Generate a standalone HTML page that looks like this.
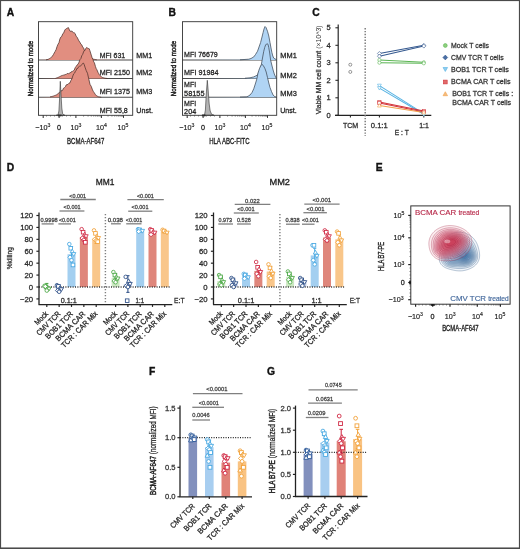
<!DOCTYPE html>
<html><head><meta charset="utf-8"><style>
html,body{margin:0;padding:0;background:#fff;}
svg{display:block;font-family:"Liberation Sans", sans-serif;will-change:transform;}
</style></head><body>
<svg width="520" height="549" viewBox="0 0 520 549">
<rect width="520" height="549" fill="#fff"/>
<text x="6.80" y="16.00" font-size="10.3" fill="#111" stroke="#111" stroke-width="0.35" font-weight="bold">A</text>
<text x="168.60" y="16.00" font-size="10.3" fill="#111" stroke="#111" stroke-width="0.35" font-weight="bold">B</text>
<text x="312.20" y="16.00" font-size="10.3" fill="#111" stroke="#111" stroke-width="0.35" font-weight="bold">C</text>
<text x="6.80" y="170.50" font-size="10.3" fill="#111" stroke="#111" stroke-width="0.35" font-weight="bold">D</text>
<text x="375.80" y="170.50" font-size="10.3" fill="#111" stroke="#111" stroke-width="0.35" font-weight="bold">E</text>
<text x="149.00" y="374.70" font-size="10.3" fill="#111" stroke="#111" stroke-width="0.35" font-weight="bold">F</text>
<text x="267.00" y="374.70" font-size="10.3" fill="#111" stroke="#111" stroke-width="0.35" font-weight="bold">G</text>
<line x1="38.50" y1="60.00" x2="132.70" y2="60.00" stroke="#4a4a4a" stroke-width="1.04"/>
<line x1="38.50" y1="78.50" x2="132.70" y2="78.50" stroke="#4a4a4a" stroke-width="1.04"/>
<line x1="38.50" y1="97.30" x2="132.70" y2="97.30" stroke="#4a4a4a" stroke-width="1.04"/>
<path d="M38.50,60.00 L46.00,59.80 L47.00,59.60 L48.00,59.40 L48.83,58.97 L49.67,58.53 L50.50,58.10 L51.45,57.17 L52.40,56.09 L53.33,54.71 L54.25,52.96 L55.17,51.40 L56.10,49.60 L57.05,46.50 L58.00,44.22 L58.95,42.74 L59.90,39.01 L60.83,37.07 L61.75,36.39 L62.67,34.00 L63.60,33.04 L64.90,29.96 L65.75,28.97 L66.75,28.44 L67.60,27.97 L68.40,27.59 L69.00,29.04 L69.90,30.99 L71.10,31.52 L71.92,30.88 L72.75,32.31 L73.50,32.65 L74.25,32.78 L75.17,33.60 L76.10,36.18 L77.05,37.13 L78.00,39.10 L78.95,40.93 L79.90,42.24 L80.83,44.12 L81.75,44.83 L82.67,47.03 L83.60,48.01 L84.42,50.25 L85.25,51.55 L86.12,52.02 L87.00,53.65 L87.80,55.03 L88.60,56.76 L89.55,57.30 L90.50,58.10 L91.33,58.43 L92.17,58.77 L93.00,59.10 L93.75,59.24 L94.50,59.38 L95.25,59.52 L96.00,59.66 L96.75,59.80 L132.70,60.00 L132.70,60.00 Z" fill="#e18e80" stroke="none" stroke-width="0.7" stroke-linejoin="round"/>
<path d="M46.00,59.80 L47.00,59.60 L48.00,59.40 L48.83,58.97 L49.67,58.53 L50.50,58.10 L51.45,57.17 L52.40,56.09 L53.33,54.71 L54.25,52.96 L55.17,51.40 L56.10,49.60 L57.05,46.50 L58.00,44.22 L58.95,42.74 L59.90,39.01 L60.83,37.07 L61.75,36.39 L62.67,34.00 L63.60,33.04 L64.90,29.96 L65.75,28.97 L66.75,28.44 L67.60,27.97 L68.40,27.59 L69.00,29.04 L69.90,30.99 L71.10,31.52 L71.92,30.88 L72.75,32.31 L73.50,32.65 L74.25,32.78 L75.17,33.60 L76.10,36.18 L77.05,37.13 L78.00,39.10 L78.95,40.93 L79.90,42.24 L80.83,44.12 L81.75,44.83 L82.67,47.03 L83.60,48.01 L84.42,50.25 L85.25,51.55 L86.12,52.02 L87.00,53.65 L87.80,55.03 L88.60,56.76 L89.55,57.30 L90.50,58.10 L91.33,58.43 L92.17,58.77 L93.00,59.10 L93.75,59.24 L94.50,59.38 L95.25,59.52 L96.00,59.66 L96.75,59.80" fill="none" stroke="#4d302b" stroke-width="0.75" stroke-linejoin="round"/>
<path d="M38.50,78.50 L55.50,78.30 L56.33,78.03 L57.17,77.77 L58.00,77.50 L58.75,77.12 L59.50,76.74 L60.25,76.36 L61.00,75.98 L61.75,75.60 L62.56,75.38 L63.38,75.17 L64.19,74.93 L65.00,74.75 L65.71,74.41 L66.42,74.30 L67.12,73.49 L67.83,73.54 L68.54,73.65 L69.25,73.21 L70.17,72.99 L71.08,71.89 L72.00,71.77 L72.75,70.94 L73.50,70.65 L74.25,70.09 L75.12,67.82 L76.00,66.60 L77.00,65.07 L78.00,64.33 L79.00,62.25 L80.00,59.52 L80.88,58.54 L81.75,55.74 L82.62,54.54 L83.50,51.98 L84.20,50.55 L84.90,50.52 L86.00,48.09 L86.70,47.50 L87.40,47.98 L88.50,48.52 L89.20,48.71 L89.90,50.65 L91.25,55.05 L92.12,57.75 L93.00,59.59 L93.70,61.87 L94.40,62.77 L95.50,66.65 L96.20,68.55 L96.90,69.76 L98.00,72.38 L98.70,73.53 L99.40,74.83 L100.20,75.75 L101.00,76.50 L101.75,77.00 L102.50,77.50 L103.33,77.73 L104.17,77.97 L105.00,78.20 L105.83,78.30 L106.67,78.40 L107.50,78.50 L132.70,78.50 L132.70,78.50 Z" fill="#e18e80" stroke="none" stroke-width="0.7" stroke-linejoin="round"/>
<path d="M55.50,78.30 L56.33,78.03 L57.17,77.77 L58.00,77.50 L58.75,77.12 L59.50,76.74 L60.25,76.36 L61.00,75.98 L61.75,75.60 L62.56,75.38 L63.38,75.17 L64.19,74.93 L65.00,74.75 L65.71,74.41 L66.42,74.30 L67.12,73.49 L67.83,73.54 L68.54,73.65 L69.25,73.21 L70.17,72.99 L71.08,71.89 L72.00,71.77 L72.75,70.94 L73.50,70.65 L74.25,70.09 L75.12,67.82 L76.00,66.60 L77.00,65.07 L78.00,64.33 L79.00,62.25 L80.00,59.52 L80.88,58.54 L81.75,55.74 L82.62,54.54 L83.50,51.98 L84.20,50.55 L84.90,50.52 L86.00,48.09 L86.70,47.50 L87.40,47.98 L88.50,48.52 L89.20,48.71 L89.90,50.65 L91.25,55.05 L92.12,57.75 L93.00,59.59 L93.70,61.87 L94.40,62.77 L95.50,66.65 L96.20,68.55 L96.90,69.76 L98.00,72.38 L98.70,73.53 L99.40,74.83 L100.20,75.75 L101.00,76.50 L101.75,77.00 L102.50,77.50 L103.33,77.73 L104.17,77.97 L105.00,78.20 L105.83,78.30 L106.67,78.40 L107.50,78.50" fill="none" stroke="#4d302b" stroke-width="0.75" stroke-linejoin="round"/>
<path d="M38.50,97.30 L50.00,96.90 L50.75,96.73 L51.50,96.55 L52.25,96.38 L53.00,96.20 L53.81,95.90 L54.62,95.60 L55.44,95.30 L56.25,95.00 L57.17,94.33 L58.08,93.65 L59.00,92.91 L59.70,92.12 L60.40,92.12 L61.10,90.72 L61.80,90.60 L62.50,90.47 L63.50,88.18 L64.50,87.59 L65.38,86.74 L66.25,84.87 L67.12,84.61 L68.00,84.33 L69.00,83.17 L70.00,82.86 L70.95,80.40 L71.90,78.98 L72.83,75.95 L73.75,73.76 L74.62,73.05 L75.50,71.14 L76.20,70.31 L76.90,68.56 L77.70,68.52 L78.50,66.86 L79.55,66.22 L80.60,65.88 L81.30,65.41 L82.00,64.37 L82.75,63.34 L83.50,63.13 L84.20,64.54 L85.00,67.15 L86.20,70.50 L87.50,73.27 L88.70,78.62 L90.00,84.36 L91.20,86.29 L92.50,89.86 L93.35,91.49 L94.20,92.67 L95.22,94.30 L96.25,95.60 L97.00,96.00 L97.75,96.40 L98.50,96.80 L99.42,96.97 L100.33,97.13 L101.25,97.30 L132.70,97.30 L132.70,97.30 Z" fill="#e18e80" stroke="none" stroke-width="0.7" stroke-linejoin="round"/>
<path d="M50.00,96.90 L50.75,96.73 L51.50,96.55 L52.25,96.38 L53.00,96.20 L53.81,95.90 L54.62,95.60 L55.44,95.30 L56.25,95.00 L57.17,94.33 L58.08,93.65 L59.00,92.91 L59.70,92.12 L60.40,92.12 L61.10,90.72 L61.80,90.60 L62.50,90.47 L63.50,88.18 L64.50,87.59 L65.38,86.74 L66.25,84.87 L67.12,84.61 L68.00,84.33 L69.00,83.17 L70.00,82.86 L70.95,80.40 L71.90,78.98 L72.83,75.95 L73.75,73.76 L74.62,73.05 L75.50,71.14 L76.20,70.31 L76.90,68.56 L77.70,68.52 L78.50,66.86 L79.55,66.22 L80.60,65.88 L81.30,65.41 L82.00,64.37 L82.75,63.34 L83.50,63.13 L84.20,64.54 L85.00,67.15 L86.20,70.50 L87.50,73.27 L88.70,78.62 L90.00,84.36 L91.20,86.29 L92.50,89.86 L93.35,91.49 L94.20,92.67 L95.22,94.30 L96.25,95.60 L97.00,96.00 L97.75,96.40 L98.50,96.80 L99.42,96.97 L100.33,97.13 L101.25,97.30" fill="none" stroke="#4d302b" stroke-width="0.75" stroke-linejoin="round"/>
<path d="M56.00,115.30 L58.00,115.00 L58.90,111.00 L59.50,100.00 L60.30,81.30 L61.10,96.00 L61.80,108.00 L62.60,113.50 L64.00,115.00 L65.00,115.30 Z" fill="#b5b5b5" stroke="#333" stroke-width="0.6" stroke-linejoin="round"/>
<rect x="57.90" y="114.70" width="3.6" height="1.6" fill="#111"/>
<rect x="38.50" y="21.70" width="94.20" height="93.60" fill="none" stroke="#333" stroke-width="0.9"/>
<line x1="43.20" y1="115.30" x2="43.20" y2="117.90" stroke="#333" stroke-width="1.04"/>
<line x1="59.10" y1="115.30" x2="59.10" y2="117.90" stroke="#333" stroke-width="1.04"/>
<line x1="75.90" y1="115.30" x2="75.90" y2="117.90" stroke="#333" stroke-width="1.04"/>
<line x1="101.40" y1="115.30" x2="101.40" y2="117.90" stroke="#333" stroke-width="1.04"/>
<line x1="123.50" y1="115.30" x2="123.50" y2="117.90" stroke="#333" stroke-width="1.04"/>
<line x1="83.58" y1="115.30" x2="83.58" y2="116.60" stroke="#444" stroke-width="0.65"/>
<line x1="88.07" y1="115.30" x2="88.07" y2="116.60" stroke="#444" stroke-width="0.65"/>
<line x1="91.25" y1="115.30" x2="91.25" y2="116.60" stroke="#444" stroke-width="0.65"/>
<line x1="93.72" y1="115.30" x2="93.72" y2="116.60" stroke="#444" stroke-width="0.65"/>
<line x1="95.74" y1="115.30" x2="95.74" y2="116.60" stroke="#444" stroke-width="0.65"/>
<line x1="97.45" y1="115.30" x2="97.45" y2="116.60" stroke="#444" stroke-width="0.65"/>
<line x1="98.93" y1="115.30" x2="98.93" y2="116.60" stroke="#444" stroke-width="0.65"/>
<line x1="100.23" y1="115.30" x2="100.23" y2="116.60" stroke="#444" stroke-width="0.65"/>
<line x1="108.05" y1="115.30" x2="108.05" y2="116.60" stroke="#444" stroke-width="0.65"/>
<line x1="111.94" y1="115.30" x2="111.94" y2="116.60" stroke="#444" stroke-width="0.65"/>
<line x1="114.71" y1="115.30" x2="114.71" y2="116.60" stroke="#444" stroke-width="0.65"/>
<line x1="116.85" y1="115.30" x2="116.85" y2="116.60" stroke="#444" stroke-width="0.65"/>
<line x1="118.60" y1="115.30" x2="118.60" y2="116.60" stroke="#444" stroke-width="0.65"/>
<line x1="120.08" y1="115.30" x2="120.08" y2="116.60" stroke="#444" stroke-width="0.65"/>
<line x1="121.36" y1="115.30" x2="121.36" y2="116.60" stroke="#444" stroke-width="0.65"/>
<line x1="122.49" y1="115.30" x2="122.49" y2="116.60" stroke="#444" stroke-width="0.65"/>
<line x1="46.50" y1="115.30" x2="46.50" y2="116.50" stroke="#444" stroke-width="0.65"/>
<line x1="50.50" y1="115.30" x2="50.50" y2="116.50" stroke="#444" stroke-width="0.65"/>
<line x1="54.50" y1="115.30" x2="54.50" y2="116.50" stroke="#444" stroke-width="0.65"/>
<line x1="62.50" y1="115.30" x2="62.50" y2="116.50" stroke="#444" stroke-width="0.65"/>
<line x1="66.50" y1="115.30" x2="66.50" y2="116.50" stroke="#444" stroke-width="0.65"/>
<line x1="70.50" y1="115.30" x2="70.50" y2="116.50" stroke="#444" stroke-width="0.65"/>
<text x="35.30" y="129.50" font-size="7.2" fill="#222" stroke="#222" stroke-width="0.16">−10<tspan font-size="5.18" dy="-2.30">3</tspan></text>
<text x="59.10" y="129.50" font-size="7.2" fill="#222" stroke="#222" stroke-width="0.26" text-anchor="middle">0</text>
<text x="70.50" y="129.50" font-size="7.2" fill="#222" stroke="#222" stroke-width="0.16">10<tspan font-size="5.18" dy="-2.30">3</tspan></text>
<text x="96.00" y="129.50" font-size="7.2" fill="#222" stroke="#222" stroke-width="0.16">10<tspan font-size="5.18" dy="-2.30">4</tspan></text>
<text x="117.50" y="129.50" font-size="7.2" fill="#222" stroke="#222" stroke-width="0.16">10<tspan font-size="5.18" dy="-2.30">5</tspan></text>
<text x="67.10" y="144.00" font-size="9.0" fill="#222" stroke="#222" stroke-width="0.35" textLength="37.20" lengthAdjust="spacingAndGlyphs">BCMA-AF647</text>
<text x="32.60" y="68.50" font-size="8.0" fill="#2a2a2a" stroke="#2a2a2a" stroke-width="0.5" text-anchor="middle" textLength="55.40" lengthAdjust="spacingAndGlyphs" transform="rotate(-90 32.60 68.50)">Normalized to mode</text>
<text x="99.70" y="57.80" font-size="7.5" fill="#222" stroke="#222" stroke-width="0.26" textLength="25.40" lengthAdjust="spacingAndGlyphs">MFI 631</text>
<text x="99.80" y="74.60" font-size="7.5" fill="#222" stroke="#222" stroke-width="0.26" textLength="30.20" lengthAdjust="spacingAndGlyphs">MFI 2150</text>
<text x="99.80" y="94.00" font-size="7.5" fill="#222" stroke="#222" stroke-width="0.26" textLength="30.20" lengthAdjust="spacingAndGlyphs">MFI 1375</text>
<text x="99.80" y="112.60" font-size="7.5" fill="#222" stroke="#222" stroke-width="0.26" textLength="28.00" lengthAdjust="spacingAndGlyphs">MFI 55,8</text>
<text x="136.30" y="57.90" font-size="7.5" fill="#222" stroke="#222" stroke-width="0.26" textLength="15.80" lengthAdjust="spacingAndGlyphs">MM1</text>
<text x="136.30" y="74.70" font-size="7.5" fill="#222" stroke="#222" stroke-width="0.26" textLength="16.00" lengthAdjust="spacingAndGlyphs">MM2</text>
<text x="136.30" y="93.90" font-size="7.5" fill="#222" stroke="#222" stroke-width="0.26" textLength="16.00" lengthAdjust="spacingAndGlyphs">MM3</text>
<text x="136.30" y="112.50" font-size="7.5" fill="#222" stroke="#222" stroke-width="0.26" textLength="16.60" lengthAdjust="spacingAndGlyphs">Unst.</text>
<line x1="182.50" y1="60.00" x2="276.70" y2="60.00" stroke="#4a4a4a" stroke-width="1.04"/>
<line x1="182.50" y1="78.50" x2="276.70" y2="78.50" stroke="#4a4a4a" stroke-width="1.04"/>
<line x1="182.50" y1="97.30" x2="276.70" y2="97.30" stroke="#4a4a4a" stroke-width="1.04"/>
<path d="M182.50,60.00 L240.00,59.80 L248.75,59.20 L251.00,58.50 L253.75,56.90 L255.50,54.50 L257.50,51.25 L259.00,47.00 L260.60,42.50 L262.00,37.00 L263.10,32.50 L264.00,29.00 L265.00,26.50 L266.00,27.50 L267.50,31.25 L268.80,36.00 L270.00,42.50 L271.00,48.00 L271.90,52.50 L272.80,56.00 L273.75,58.10 L275.00,59.00 L276.20,59.30 L276.70,60.00 L276.70,60.00 Z" fill="#b0d4f4" stroke="none" stroke-width="0.7" stroke-linejoin="round"/>
<path d="M240.00,59.80 L248.75,59.20 L251.00,58.50 L253.75,56.90 L255.50,54.50 L257.50,51.25 L259.00,47.00 L260.60,42.50 L262.00,37.00 L263.10,32.50 L264.00,29.00 L265.00,26.50 L266.00,27.50 L267.50,31.25 L268.80,36.00 L270.00,42.50 L271.00,48.00 L271.90,52.50 L272.80,56.00 L273.75,58.10 L275.00,59.00 L276.20,59.30" fill="none" stroke="#3d4a58" stroke-width="0.75" stroke-linejoin="round"/>
<path d="M182.50,78.50 L245.00,78.20 L250.00,77.80 L253.75,76.90 L255.50,76.00 L257.50,75.00 L259.40,71.00 L261.25,65.00 L262.50,58.00 L263.75,51.25 L264.70,47.50 L265.60,45.00 L266.50,44.00 L267.50,43.75 L268.20,45.00 L268.75,47.50 L269.70,53.00 L270.60,60.00 L271.80,65.00 L273.10,70.00 L274.30,74.00 L275.60,77.00 L276.20,78.00 L276.70,78.50 L276.70,78.50 Z" fill="#b0d4f4" stroke="none" stroke-width="0.7" stroke-linejoin="round"/>
<path d="M245.00,78.20 L250.00,77.80 L253.75,76.90 L255.50,76.00 L257.50,75.00 L259.40,71.00 L261.25,65.00 L262.50,58.00 L263.75,51.25 L264.70,47.50 L265.60,45.00 L266.50,44.00 L267.50,43.75 L268.20,45.00 L268.75,47.50 L269.70,53.00 L270.60,60.00 L271.80,65.00 L273.10,70.00 L274.30,74.00 L275.60,77.00 L276.20,78.00" fill="none" stroke="#3d4a58" stroke-width="0.75" stroke-linejoin="round"/>
<path d="M182.50,97.30 L240.00,97.10 L246.25,96.90 L248.00,96.30 L250.00,95.00 L252.00,92.50 L253.75,88.75 L255.30,84.00 L256.90,78.75 L258.00,73.00 L259.40,68.75 L260.60,66.00 L261.90,64.40 L263.30,65.50 L265.00,68.75 L266.20,72.00 L267.50,77.50 L268.80,83.00 L270.00,87.50 L271.50,91.50 L273.10,95.00 L274.30,96.30 L275.60,96.90 L276.20,97.20 L276.70,97.30 L276.70,97.30 Z" fill="#b0d4f4" stroke="none" stroke-width="0.7" stroke-linejoin="round"/>
<path d="M240.00,97.10 L246.25,96.90 L248.00,96.30 L250.00,95.00 L252.00,92.50 L253.75,88.75 L255.30,84.00 L256.90,78.75 L258.00,73.00 L259.40,68.75 L260.60,66.00 L261.90,64.40 L263.30,65.50 L265.00,68.75 L266.20,72.00 L267.50,77.50 L268.80,83.00 L270.00,87.50 L271.50,91.50 L273.10,95.00 L274.30,96.30 L275.60,96.90 L276.20,97.20" fill="none" stroke="#3d4a58" stroke-width="0.75" stroke-linejoin="round"/>
<path d="M202.00,115.30 L204.50,115.00 L205.40,110.00 L206.20,95.00 L207.30,80.30 L208.30,92.00 L209.20,104.00 L210.20,111.00 L211.70,114.40 L214.00,115.20 Z" fill="#b5b5b5" stroke="#333" stroke-width="0.6" stroke-linejoin="round"/>
<rect x="201.90" y="114.70" width="3.6" height="1.6" fill="#111"/>
<rect x="182.50" y="21.70" width="94.20" height="93.60" fill="none" stroke="#333" stroke-width="0.9"/>
<line x1="187.20" y1="115.30" x2="187.20" y2="117.90" stroke="#333" stroke-width="1.04"/>
<line x1="203.10" y1="115.30" x2="203.10" y2="117.90" stroke="#333" stroke-width="1.04"/>
<line x1="219.90" y1="115.30" x2="219.90" y2="117.90" stroke="#333" stroke-width="1.04"/>
<line x1="245.40" y1="115.30" x2="245.40" y2="117.90" stroke="#333" stroke-width="1.04"/>
<line x1="267.50" y1="115.30" x2="267.50" y2="117.90" stroke="#333" stroke-width="1.04"/>
<line x1="227.58" y1="115.30" x2="227.58" y2="116.60" stroke="#444" stroke-width="0.65"/>
<line x1="232.07" y1="115.30" x2="232.07" y2="116.60" stroke="#444" stroke-width="0.65"/>
<line x1="235.25" y1="115.30" x2="235.25" y2="116.60" stroke="#444" stroke-width="0.65"/>
<line x1="237.72" y1="115.30" x2="237.72" y2="116.60" stroke="#444" stroke-width="0.65"/>
<line x1="239.74" y1="115.30" x2="239.74" y2="116.60" stroke="#444" stroke-width="0.65"/>
<line x1="241.45" y1="115.30" x2="241.45" y2="116.60" stroke="#444" stroke-width="0.65"/>
<line x1="242.93" y1="115.30" x2="242.93" y2="116.60" stroke="#444" stroke-width="0.65"/>
<line x1="244.23" y1="115.30" x2="244.23" y2="116.60" stroke="#444" stroke-width="0.65"/>
<line x1="252.05" y1="115.30" x2="252.05" y2="116.60" stroke="#444" stroke-width="0.65"/>
<line x1="255.94" y1="115.30" x2="255.94" y2="116.60" stroke="#444" stroke-width="0.65"/>
<line x1="258.71" y1="115.30" x2="258.71" y2="116.60" stroke="#444" stroke-width="0.65"/>
<line x1="260.85" y1="115.30" x2="260.85" y2="116.60" stroke="#444" stroke-width="0.65"/>
<line x1="262.60" y1="115.30" x2="262.60" y2="116.60" stroke="#444" stroke-width="0.65"/>
<line x1="264.08" y1="115.30" x2="264.08" y2="116.60" stroke="#444" stroke-width="0.65"/>
<line x1="265.36" y1="115.30" x2="265.36" y2="116.60" stroke="#444" stroke-width="0.65"/>
<line x1="266.49" y1="115.30" x2="266.49" y2="116.60" stroke="#444" stroke-width="0.65"/>
<line x1="190.50" y1="115.30" x2="190.50" y2="116.50" stroke="#444" stroke-width="0.65"/>
<line x1="194.50" y1="115.30" x2="194.50" y2="116.50" stroke="#444" stroke-width="0.65"/>
<line x1="198.50" y1="115.30" x2="198.50" y2="116.50" stroke="#444" stroke-width="0.65"/>
<line x1="206.50" y1="115.30" x2="206.50" y2="116.50" stroke="#444" stroke-width="0.65"/>
<line x1="210.50" y1="115.30" x2="210.50" y2="116.50" stroke="#444" stroke-width="0.65"/>
<line x1="214.50" y1="115.30" x2="214.50" y2="116.50" stroke="#444" stroke-width="0.65"/>
<text x="179.30" y="129.50" font-size="7.2" fill="#222" stroke="#222" stroke-width="0.16">−10<tspan font-size="5.18" dy="-2.30">3</tspan></text>
<text x="203.10" y="129.50" font-size="7.2" fill="#222" stroke="#222" stroke-width="0.26" text-anchor="middle">0</text>
<text x="214.50" y="129.50" font-size="7.2" fill="#222" stroke="#222" stroke-width="0.16">10<tspan font-size="5.18" dy="-2.30">3</tspan></text>
<text x="240.00" y="129.50" font-size="7.2" fill="#222" stroke="#222" stroke-width="0.16">10<tspan font-size="5.18" dy="-2.30">4</tspan></text>
<text x="261.50" y="129.50" font-size="7.2" fill="#222" stroke="#222" stroke-width="0.16">10<tspan font-size="5.18" dy="-2.30">5</tspan></text>
<text x="209.20" y="144.00" font-size="9.0" fill="#222" stroke="#222" stroke-width="0.35" textLength="40.40" lengthAdjust="spacingAndGlyphs">HLA ABC-FITC</text>
<text x="176.10" y="68.50" font-size="8.0" fill="#2a2a2a" stroke="#2a2a2a" stroke-width="0.5" text-anchor="middle" textLength="55.40" lengthAdjust="spacingAndGlyphs" transform="rotate(-90 176.10 68.50)">Normalized to mode</text>
<text x="184.10" y="56.90" font-size="7.5" fill="#222" stroke="#222" stroke-width="0.26" textLength="33.70" lengthAdjust="spacingAndGlyphs">MFI 76679</text>
<text x="184.10" y="74.70" font-size="7.5" fill="#222" stroke="#222" stroke-width="0.26" textLength="34.30" lengthAdjust="spacingAndGlyphs">MFI 91984</text>
<text x="184.10" y="86.70" font-size="7.5" fill="#222" stroke="#222" stroke-width="0.26" textLength="12.10" lengthAdjust="spacingAndGlyphs">MFI</text>
<text x="184.10" y="96.00" font-size="7.5" fill="#222" stroke="#222" stroke-width="0.26" textLength="20.40" lengthAdjust="spacingAndGlyphs">58155</text>
<text x="184.10" y="105.60" font-size="7.5" fill="#222" stroke="#222" stroke-width="0.26" textLength="12.10" lengthAdjust="spacingAndGlyphs">MFI</text>
<text x="184.10" y="114.40" font-size="7.5" fill="#222" stroke="#222" stroke-width="0.26" textLength="12.10" lengthAdjust="spacingAndGlyphs">204</text>
<text x="280.30" y="58.30" font-size="7.5" fill="#222" stroke="#222" stroke-width="0.26" textLength="16.50" lengthAdjust="spacingAndGlyphs">MM1</text>
<text x="280.30" y="77.70" font-size="7.5" fill="#222" stroke="#222" stroke-width="0.26" textLength="16.50" lengthAdjust="spacingAndGlyphs">MM2</text>
<text x="280.30" y="95.70" font-size="7.5" fill="#222" stroke="#222" stroke-width="0.26" textLength="16.50" lengthAdjust="spacingAndGlyphs">MM3</text>
<text x="280.30" y="113.10" font-size="7.5" fill="#222" stroke="#222" stroke-width="0.26" textLength="16.40" lengthAdjust="spacingAndGlyphs">Unst.</text>
<line x1="338.20" y1="24.40" x2="338.20" y2="115.30" stroke="#222" stroke-width="1.17"/>
<line x1="335.00" y1="115.30" x2="431.30" y2="115.30" stroke="#222" stroke-width="1.17"/>
<line x1="335.40" y1="115.30" x2="338.20" y2="115.30" stroke="#222" stroke-width="1.04"/>
<text x="330.60" y="117.90" font-size="7.5" fill="#2a2a2a" stroke="#2a2a2a" stroke-width="0.26" text-anchor="end">0</text>
<line x1="335.40" y1="97.80" x2="338.20" y2="97.80" stroke="#222" stroke-width="1.04"/>
<text x="330.60" y="100.40" font-size="7.5" fill="#2a2a2a" stroke="#2a2a2a" stroke-width="0.26" text-anchor="end">1</text>
<line x1="335.40" y1="80.30" x2="338.20" y2="80.30" stroke="#222" stroke-width="1.04"/>
<text x="330.60" y="82.90" font-size="7.5" fill="#2a2a2a" stroke="#2a2a2a" stroke-width="0.26" text-anchor="end">2</text>
<line x1="335.40" y1="62.80" x2="338.20" y2="62.80" stroke="#222" stroke-width="1.04"/>
<text x="330.60" y="65.40" font-size="7.5" fill="#2a2a2a" stroke="#2a2a2a" stroke-width="0.26" text-anchor="end">3</text>
<line x1="335.40" y1="45.30" x2="338.20" y2="45.30" stroke="#222" stroke-width="1.04"/>
<text x="330.60" y="47.90" font-size="7.5" fill="#2a2a2a" stroke="#2a2a2a" stroke-width="0.26" text-anchor="end">4</text>
<line x1="335.40" y1="27.80" x2="338.20" y2="27.80" stroke="#222" stroke-width="1.04"/>
<text x="330.60" y="30.40" font-size="7.5" fill="#2a2a2a" stroke="#2a2a2a" stroke-width="0.26" text-anchor="end">5</text>
<line x1="350.40" y1="115.30" x2="350.40" y2="117.60" stroke="#222" stroke-width="1.04"/>
<line x1="379.40" y1="115.30" x2="379.40" y2="117.60" stroke="#222" stroke-width="1.04"/>
<line x1="423.80" y1="115.30" x2="423.80" y2="117.60" stroke="#222" stroke-width="1.04"/>
<text x="350.60" y="128.00" font-size="7.6" fill="#2a2a2a" stroke="#2a2a2a" stroke-width="0.26" text-anchor="middle" textLength="15.40" lengthAdjust="spacingAndGlyphs">TCM</text>
<text x="379.25" y="128.00" font-size="7.6" fill="#2a2a2a" stroke="#2a2a2a" stroke-width="0.26" text-anchor="middle" textLength="16.90" lengthAdjust="spacingAndGlyphs">0.1:1</text>
<text x="424.00" y="128.00" font-size="7.6" fill="#2a2a2a" stroke="#2a2a2a" stroke-width="0.26" text-anchor="middle" textLength="9.60" lengthAdjust="spacingAndGlyphs">1:1</text>
<text x="401.80" y="135.00" font-size="7.6" fill="#2a2a2a" stroke="#2a2a2a" stroke-width="0.26" text-anchor="middle" textLength="14.00" lengthAdjust="spacingAndGlyphs">E : T</text>
<line x1="365.20" y1="28.00" x2="365.20" y2="136.00" stroke="#777" stroke-width="1.43" stroke-dasharray="1.4 1.5"/>
<text x="321.0" y="69.8" font-size="8.0" fill="#333" text-anchor="middle" textLength="88.7" lengthAdjust="spacingAndGlyphs" transform="rotate(-90 321.0 69.8)"><tspan stroke="#333" stroke-width="0.3">Viable MM cell count</tspan> (×10^3)</text>
<circle cx="350.30" cy="64.70" r="1.50" fill="#fff" stroke="#555" stroke-width="0.6"/>
<circle cx="350.30" cy="71.90" r="1.50" fill="#fff" stroke="#555" stroke-width="0.6"/>
<line x1="379.40" y1="60.00" x2="423.80" y2="62.30" stroke="#5bb553" stroke-width="1.04"/>
<line x1="379.40" y1="62.70" x2="423.80" y2="63.30" stroke="#5bb553" stroke-width="1.04"/>
<line x1="379.40" y1="53.50" x2="423.80" y2="45.30" stroke="#35598f" stroke-width="1.04"/>
<line x1="379.40" y1="56.20" x2="423.80" y2="46.10" stroke="#35598f" stroke-width="1.04"/>
<line x1="379.40" y1="85.60" x2="423.80" y2="113.60" stroke="#55b2e3" stroke-width="1.04"/>
<line x1="379.40" y1="88.10" x2="423.80" y2="114.30" stroke="#55b2e3" stroke-width="1.04"/>
<line x1="379.40" y1="101.90" x2="423.80" y2="111.00" stroke="#d3343a" stroke-width="1.04"/>
<line x1="379.40" y1="103.10" x2="423.80" y2="112.00" stroke="#d3343a" stroke-width="1.04"/>
<line x1="379.40" y1="105.60" x2="423.80" y2="112.50" stroke="#f2a14c" stroke-width="1.04"/>
<circle cx="379.40" cy="60.00" r="1.60" fill="#fff" stroke="#5bb553" stroke-width="0.6"/>
<circle cx="423.80" cy="62.30" r="1.60" fill="#fff" stroke="#5bb553" stroke-width="0.6"/>
<circle cx="379.40" cy="62.70" r="1.60" fill="#fff" stroke="#5bb553" stroke-width="0.6"/>
<circle cx="423.80" cy="63.30" r="1.60" fill="#fff" stroke="#5bb553" stroke-width="0.6"/>
<path d="M379.40,51.50 L381.40,53.50 L379.40,55.50 L377.40,53.50 Z" fill="#fff" stroke="#35598f" stroke-width="0.6" stroke-linejoin="round"/>
<path d="M423.80,43.30 L425.80,45.30 L423.80,47.30 L421.80,45.30 Z" fill="#fff" stroke="#35598f" stroke-width="0.6" stroke-linejoin="round"/>
<path d="M379.40,54.20 L381.40,56.20 L379.40,58.20 L377.40,56.20 Z" fill="#fff" stroke="#35598f" stroke-width="0.6" stroke-linejoin="round"/>
<path d="M423.80,44.10 L425.80,46.10 L423.80,48.10 L421.80,46.10 Z" fill="#fff" stroke="#35598f" stroke-width="0.6" stroke-linejoin="round"/>
<path d="M377.48,84.16 L381.32,84.16 L379.40,87.52 Z" fill="#fff" stroke="#55b2e3" stroke-width="0.6" stroke-linejoin="round"/>
<path d="M421.88,112.16 L425.72,112.16 L423.80,115.52 Z" fill="#fff" stroke="#55b2e3" stroke-width="0.6" stroke-linejoin="round"/>
<path d="M377.48,86.66 L381.32,86.66 L379.40,90.02 Z" fill="#fff" stroke="#55b2e3" stroke-width="0.6" stroke-linejoin="round"/>
<path d="M421.88,112.86 L425.72,112.86 L423.80,116.22 Z" fill="#fff" stroke="#55b2e3" stroke-width="0.6" stroke-linejoin="round"/>
<rect x="377.80" y="100.30" width="3.20" height="3.20" fill="#fff" stroke="#d3343a" stroke-width="0.6"/>
<rect x="422.20" y="109.40" width="3.20" height="3.20" fill="#fff" stroke="#d3343a" stroke-width="0.6"/>
<rect x="377.80" y="101.50" width="3.20" height="3.20" fill="#fff" stroke="#d3343a" stroke-width="0.6"/>
<rect x="422.20" y="110.40" width="3.20" height="3.20" fill="#fff" stroke="#d3343a" stroke-width="0.6"/>
<path d="M377.48,107.04 L381.32,107.04 L379.40,103.68 Z" fill="#fff" stroke="#f2a14c" stroke-width="0.6" stroke-linejoin="round"/>
<path d="M421.88,113.94 L425.72,113.94 L423.80,110.58 Z" fill="#fff" stroke="#f2a14c" stroke-width="0.6" stroke-linejoin="round"/>
<circle cx="445.30" cy="45.50" r="1.90" fill="#8fd07f" stroke="#5bb553" stroke-width="0.6"/>
<text x="451.00" y="47.90" font-size="7.0" fill="#333" stroke="#333" stroke-width="0.26" textLength="38.00" lengthAdjust="spacingAndGlyphs">Mock T cells</text>
<path d="M445.30,55.12 L447.68,57.50 L445.30,59.88 L442.93,57.50 Z" fill="#4a6fa5" stroke="#35598f" stroke-width="0.6" stroke-linejoin="round"/>
<text x="451.00" y="59.90" font-size="7.0" fill="#333" stroke="#333" stroke-width="0.26" textLength="52.60" lengthAdjust="spacingAndGlyphs">CMV TCR T cells</text>
<path d="M443.02,67.49 L447.58,67.49 L445.30,71.48 Z" fill="#8fcdf0" stroke="#55b2e3" stroke-width="0.6" stroke-linejoin="round"/>
<text x="451.00" y="71.60" font-size="7.0" fill="#333" stroke="#333" stroke-width="0.26" textLength="57.90" lengthAdjust="spacingAndGlyphs">BOB1 TCR T cells</text>
<rect x="443.40" y="80.10" width="3.80" height="3.80" fill="#e06b6b" stroke="#d3343a" stroke-width="0.6"/>
<text x="451.00" y="84.40" font-size="7.0" fill="#333" stroke="#333" stroke-width="0.26" textLength="59.50" lengthAdjust="spacingAndGlyphs">BCMA CAR T cells</text>
<path d="M443.02,95.71 L447.58,95.71 L445.30,91.72 Z" fill="#f5bd7e" stroke="#f2a14c" stroke-width="0.6" stroke-linejoin="round"/>
<text x="452.20" y="96.40" font-size="7.0" fill="#333" stroke="#333" stroke-width="0.26" textLength="60.90" lengthAdjust="spacingAndGlyphs">BOB1 TCR T cells :</text>
<text x="452.20" y="105.10" font-size="7.0" fill="#333" stroke="#333" stroke-width="0.26" textLength="58.80" lengthAdjust="spacingAndGlyphs">BCMA CAR T cells</text>
<rect x="42.80" y="287.00" width="8.00" height="0.00" fill="#cce8c2"/>
<rect x="55.15" y="287.00" width="8.00" height="1.19" fill="#c2cde5"/>
<rect x="67.50" y="254.23" width="8.00" height="32.77" fill="#a3cff0"/>
<rect x="79.85" y="236.95" width="8.00" height="50.05" fill="#df867b"/>
<rect x="92.20" y="238.74" width="8.00" height="48.26" fill="#f9c68a"/>
<rect x="111.60" y="278.06" width="8.00" height="8.94" fill="#cce8c2"/>
<rect x="123.90" y="284.02" width="8.00" height="2.98" fill="#c2cde5"/>
<rect x="136.20" y="230.40" width="8.00" height="56.60" fill="#a3cff0"/>
<rect x="148.50" y="231.59" width="8.00" height="55.41" fill="#df867b"/>
<rect x="160.80" y="231.59" width="8.00" height="55.41" fill="#f9c68a"/>
<line x1="39.00" y1="287.00" x2="170.50" y2="287.00" stroke="#333" stroke-width="1.30" stroke-dasharray="1.0 1.4"/>
<line x1="46.80" y1="283.43" x2="46.80" y2="290.57" stroke="#4aa845" stroke-width="1.04"/>
<line x1="45.20" y1="283.43" x2="48.40" y2="283.43" stroke="#4aa845" stroke-width="1.04"/>
<line x1="45.20" y1="290.57" x2="48.40" y2="290.57" stroke="#4aa845" stroke-width="1.04"/>
<circle cx="44.60" cy="285.81" r="1.80" fill="#fff" stroke="#4aa845" stroke-width="0.85"/>
<rect x="44.27" y="285.20" width="3.60" height="3.60" fill="#fff" stroke="#4aa845" stroke-width="0.85"/>
<path d="M45.37,289.22 L49.69,289.22 L47.53,285.44 Z" fill="#fff" stroke="#4aa845" stroke-width="0.85" stroke-linejoin="round"/>
<path d="M46.84,287.17 L51.16,287.17 L49.00,290.95 Z" fill="#fff" stroke="#4aa845" stroke-width="0.85" stroke-linejoin="round"/>
<path d="M45.33,284.15 L47.58,286.40 L45.33,288.65 L43.08,286.40 Z" fill="#fff" stroke="#4aa845" stroke-width="0.85" stroke-linejoin="round"/>
<circle cx="46.80" cy="290.57" r="1.80" fill="#fff" stroke="#4aa845" stroke-width="0.85"/>
<line x1="59.15" y1="285.21" x2="59.15" y2="291.17" stroke="#2b4d85" stroke-width="1.04"/>
<line x1="57.55" y1="285.21" x2="60.75" y2="285.21" stroke="#2b4d85" stroke-width="1.04"/>
<line x1="57.55" y1="291.17" x2="60.75" y2="291.17" stroke="#2b4d85" stroke-width="1.04"/>
<circle cx="56.95" cy="285.21" r="1.80" fill="#fff" stroke="#2b4d85" stroke-width="0.85"/>
<rect x="56.62" y="284.60" width="3.60" height="3.60" fill="#fff" stroke="#2b4d85" stroke-width="0.85"/>
<path d="M57.72,289.81 L62.04,289.81 L59.88,286.03 Z" fill="#fff" stroke="#2b4d85" stroke-width="0.85" stroke-linejoin="round"/>
<path d="M59.19,287.76 L63.51,287.76 L61.35,291.54 Z" fill="#fff" stroke="#2b4d85" stroke-width="0.85" stroke-linejoin="round"/>
<path d="M57.68,288.32 L59.93,290.57 L57.68,292.82 L55.43,290.57 Z" fill="#fff" stroke="#2b4d85" stroke-width="0.85" stroke-linejoin="round"/>
<circle cx="59.15" cy="291.77" r="1.80" fill="#fff" stroke="#2b4d85" stroke-width="0.85"/>
<line x1="71.50" y1="246.49" x2="71.50" y2="261.98" stroke="#4aa9e2" stroke-width="1.04"/>
<line x1="69.90" y1="246.49" x2="73.10" y2="246.49" stroke="#4aa9e2" stroke-width="1.04"/>
<line x1="69.90" y1="261.98" x2="73.10" y2="261.98" stroke="#4aa9e2" stroke-width="1.04"/>
<circle cx="69.30" cy="244.10" r="1.80" fill="#fff" stroke="#4aa9e2" stroke-width="0.85"/>
<rect x="68.97" y="246.47" width="3.60" height="3.60" fill="#fff" stroke="#4aa9e2" stroke-width="0.85"/>
<path d="M70.07,252.87 L74.39,252.87 L72.23,249.09 Z" fill="#fff" stroke="#4aa9e2" stroke-width="0.85" stroke-linejoin="round"/>
<path d="M71.54,252.61 L75.86,252.61 L73.70,256.39 Z" fill="#fff" stroke="#4aa9e2" stroke-width="0.85" stroke-linejoin="round"/>
<path d="M70.03,254.96 L72.28,257.21 L70.03,259.46 L67.78,257.21 Z" fill="#fff" stroke="#4aa9e2" stroke-width="0.85" stroke-linejoin="round"/>
<circle cx="71.50" cy="260.19" r="1.80" fill="#fff" stroke="#4aa9e2" stroke-width="0.85"/>
<rect x="71.17" y="263.16" width="3.60" height="3.60" fill="#fff" stroke="#4aa9e2" stroke-width="0.85"/>
<line x1="83.85" y1="232.78" x2="83.85" y2="241.12" stroke="#d02843" stroke-width="1.04"/>
<line x1="82.25" y1="232.78" x2="85.45" y2="232.78" stroke="#d02843" stroke-width="1.04"/>
<line x1="82.25" y1="241.12" x2="85.45" y2="241.12" stroke="#d02843" stroke-width="1.04"/>
<circle cx="81.65" cy="229.21" r="1.80" fill="#fff" stroke="#d02843" stroke-width="0.85"/>
<rect x="81.32" y="230.39" width="3.60" height="3.60" fill="#fff" stroke="#d02843" stroke-width="0.85"/>
<path d="M82.42,236.19 L86.74,236.19 L84.58,232.41 Z" fill="#fff" stroke="#d02843" stroke-width="0.85" stroke-linejoin="round"/>
<path d="M83.89,234.74 L88.21,234.74 L86.05,238.52 Z" fill="#fff" stroke="#d02843" stroke-width="0.85" stroke-linejoin="round"/>
<path d="M82.38,235.89 L84.63,238.14 L82.38,240.39 L80.13,238.14 Z" fill="#fff" stroke="#d02843" stroke-width="0.85" stroke-linejoin="round"/>
<circle cx="83.85" cy="239.93" r="1.80" fill="#fff" stroke="#d02843" stroke-width="0.85"/>
<rect x="83.52" y="240.51" width="3.60" height="3.60" fill="#fff" stroke="#d02843" stroke-width="0.85"/>
<line x1="96.20" y1="233.97" x2="96.20" y2="243.51" stroke="#f2a23a" stroke-width="1.04"/>
<line x1="94.60" y1="233.97" x2="97.80" y2="233.97" stroke="#f2a23a" stroke-width="1.04"/>
<line x1="94.60" y1="243.51" x2="97.80" y2="243.51" stroke="#f2a23a" stroke-width="1.04"/>
<circle cx="94.00" cy="230.40" r="1.80" fill="#fff" stroke="#f2a23a" stroke-width="0.85"/>
<rect x="93.67" y="231.58" width="3.60" height="3.60" fill="#fff" stroke="#f2a23a" stroke-width="0.85"/>
<path d="M94.77,237.98 L99.09,237.98 L96.93,234.20 Z" fill="#fff" stroke="#f2a23a" stroke-width="0.85" stroke-linejoin="round"/>
<path d="M96.24,236.52 L100.56,236.52 L98.40,240.30 Z" fill="#fff" stroke="#f2a23a" stroke-width="0.85" stroke-linejoin="round"/>
<path d="M94.73,237.09 L96.98,239.34 L94.73,241.59 L92.48,239.34 Z" fill="#fff" stroke="#f2a23a" stroke-width="0.85" stroke-linejoin="round"/>
<circle cx="96.20" cy="240.53" r="1.80" fill="#fff" stroke="#f2a23a" stroke-width="0.85"/>
<rect x="95.87" y="239.92" width="3.60" height="3.60" fill="#fff" stroke="#f2a23a" stroke-width="0.85"/>
<line x1="115.60" y1="273.89" x2="115.60" y2="282.23" stroke="#4aa845" stroke-width="1.04"/>
<line x1="114.00" y1="273.89" x2="117.20" y2="273.89" stroke="#4aa845" stroke-width="1.04"/>
<line x1="114.00" y1="282.23" x2="117.20" y2="282.23" stroke="#4aa845" stroke-width="1.04"/>
<circle cx="113.40" cy="272.11" r="1.80" fill="#fff" stroke="#4aa845" stroke-width="0.85"/>
<rect x="113.07" y="273.28" width="3.60" height="3.60" fill="#fff" stroke="#4aa845" stroke-width="0.85"/>
<path d="M114.17,278.49 L118.49,278.49 L116.33,274.71 Z" fill="#fff" stroke="#4aa845" stroke-width="0.85" stroke-linejoin="round"/>
<path d="M115.64,277.04 L119.96,277.04 L117.80,280.82 Z" fill="#fff" stroke="#4aa845" stroke-width="0.85" stroke-linejoin="round"/>
<path d="M114.13,278.79 L116.38,281.04 L114.13,283.29 L111.88,281.04 Z" fill="#fff" stroke="#4aa845" stroke-width="0.85" stroke-linejoin="round"/>
<circle cx="115.60" cy="282.23" r="1.80" fill="#fff" stroke="#4aa845" stroke-width="0.85"/>
<line x1="127.90" y1="275.68" x2="127.90" y2="292.36" stroke="#2b4d85" stroke-width="1.04"/>
<line x1="126.30" y1="275.68" x2="129.50" y2="275.68" stroke="#2b4d85" stroke-width="1.04"/>
<line x1="126.30" y1="292.36" x2="129.50" y2="292.36" stroke="#2b4d85" stroke-width="1.04"/>
<circle cx="125.70" cy="276.87" r="1.80" fill="#fff" stroke="#2b4d85" stroke-width="0.85"/>
<rect x="125.37" y="298.90" width="3.60" height="3.60" fill="#fff" stroke="#2b4d85" stroke-width="0.85"/>
<path d="M126.47,282.66 L130.79,282.66 L128.63,278.88 Z" fill="#fff" stroke="#2b4d85" stroke-width="0.85" stroke-linejoin="round"/>
<path d="M127.94,282.40 L132.26,282.40 L130.10,286.18 Z" fill="#fff" stroke="#2b4d85" stroke-width="0.85" stroke-linejoin="round"/>
<path d="M126.43,283.56 L128.68,285.81 L126.43,288.06 L124.18,285.81 Z" fill="#fff" stroke="#2b4d85" stroke-width="0.85" stroke-linejoin="round"/>
<circle cx="127.90" cy="287.00" r="1.80" fill="#fff" stroke="#2b4d85" stroke-width="0.85"/>
<line x1="140.20" y1="229.21" x2="140.20" y2="231.59" stroke="#4aa9e2" stroke-width="1.04"/>
<line x1="138.60" y1="229.21" x2="141.80" y2="229.21" stroke="#4aa9e2" stroke-width="1.04"/>
<line x1="138.60" y1="231.59" x2="141.80" y2="231.59" stroke="#4aa9e2" stroke-width="1.04"/>
<circle cx="138.00" cy="229.21" r="1.80" fill="#fff" stroke="#4aa9e2" stroke-width="0.85"/>
<rect x="137.67" y="228.00" width="3.60" height="3.60" fill="#fff" stroke="#4aa9e2" stroke-width="0.85"/>
<path d="M138.77,232.02 L143.09,232.02 L140.93,228.24 Z" fill="#fff" stroke="#4aa9e2" stroke-width="0.85" stroke-linejoin="round"/>
<path d="M140.24,229.37 L144.56,229.37 L142.40,233.15 Z" fill="#fff" stroke="#4aa9e2" stroke-width="0.85" stroke-linejoin="round"/>
<path d="M138.73,229.34 L140.98,231.59 L138.73,233.84 L136.48,231.59 Z" fill="#fff" stroke="#4aa9e2" stroke-width="0.85" stroke-linejoin="round"/>
<line x1="152.50" y1="229.80" x2="152.50" y2="233.38" stroke="#d02843" stroke-width="1.04"/>
<line x1="150.90" y1="229.80" x2="154.10" y2="229.80" stroke="#d02843" stroke-width="1.04"/>
<line x1="150.90" y1="233.38" x2="154.10" y2="233.38" stroke="#d02843" stroke-width="1.04"/>
<circle cx="150.30" cy="229.21" r="1.80" fill="#fff" stroke="#d02843" stroke-width="0.85"/>
<rect x="149.97" y="228.60" width="3.60" height="3.60" fill="#fff" stroke="#d02843" stroke-width="0.85"/>
<path d="M151.07,233.21 L155.39,233.21 L153.23,229.43 Z" fill="#fff" stroke="#d02843" stroke-width="0.85" stroke-linejoin="round"/>
<path d="M152.54,231.16 L156.86,231.16 L154.70,234.94 Z" fill="#fff" stroke="#d02843" stroke-width="0.85" stroke-linejoin="round"/>
<path d="M151.03,232.32 L153.28,234.57 L151.03,236.82 L148.78,234.57 Z" fill="#fff" stroke="#d02843" stroke-width="0.85" stroke-linejoin="round"/>
<line x1="164.80" y1="230.40" x2="164.80" y2="232.78" stroke="#f2a23a" stroke-width="1.04"/>
<line x1="163.20" y1="230.40" x2="166.40" y2="230.40" stroke="#f2a23a" stroke-width="1.04"/>
<line x1="163.20" y1="232.78" x2="166.40" y2="232.78" stroke="#f2a23a" stroke-width="1.04"/>
<circle cx="162.60" cy="229.80" r="1.80" fill="#fff" stroke="#f2a23a" stroke-width="0.85"/>
<rect x="162.27" y="229.19" width="3.60" height="3.60" fill="#fff" stroke="#f2a23a" stroke-width="0.85"/>
<path d="M163.37,233.21 L167.69,233.21 L165.53,229.43 Z" fill="#fff" stroke="#f2a23a" stroke-width="0.85" stroke-linejoin="round"/>
<path d="M164.84,231.16 L169.16,231.16 L167.00,234.94 Z" fill="#fff" stroke="#f2a23a" stroke-width="0.85" stroke-linejoin="round"/>
<line x1="105.40" y1="214.00" x2="105.40" y2="304.50" stroke="#808080" stroke-width="1.43" stroke-dasharray="1.3 1.7"/>
<line x1="39.00" y1="212.50" x2="39.00" y2="304.60" stroke="#222" stroke-width="1.30"/>
<line x1="38.50" y1="304.60" x2="172.30" y2="304.60" stroke="#222" stroke-width="1.30"/>
<line x1="36.40" y1="215.50" x2="39.00" y2="215.50" stroke="#222" stroke-width="1.17"/>
<text x="33.10" y="218.20" font-size="7.75" fill="#2a2a2a" stroke="#2a2a2a" stroke-width="0.26" text-anchor="end">120</text>
<line x1="36.40" y1="227.42" x2="39.00" y2="227.42" stroke="#222" stroke-width="1.17"/>
<text x="33.10" y="230.12" font-size="7.75" fill="#2a2a2a" stroke="#2a2a2a" stroke-width="0.26" text-anchor="end">100</text>
<line x1="36.40" y1="239.34" x2="39.00" y2="239.34" stroke="#222" stroke-width="1.17"/>
<text x="33.10" y="242.04" font-size="7.75" fill="#2a2a2a" stroke="#2a2a2a" stroke-width="0.26" text-anchor="end">80</text>
<line x1="36.40" y1="251.25" x2="39.00" y2="251.25" stroke="#222" stroke-width="1.17"/>
<text x="33.10" y="253.95" font-size="7.75" fill="#2a2a2a" stroke="#2a2a2a" stroke-width="0.26" text-anchor="end">60</text>
<line x1="36.40" y1="263.17" x2="39.00" y2="263.17" stroke="#222" stroke-width="1.17"/>
<text x="33.10" y="265.87" font-size="7.75" fill="#2a2a2a" stroke="#2a2a2a" stroke-width="0.26" text-anchor="end">40</text>
<line x1="36.40" y1="275.08" x2="39.00" y2="275.08" stroke="#222" stroke-width="1.17"/>
<text x="33.10" y="277.78" font-size="7.75" fill="#2a2a2a" stroke="#2a2a2a" stroke-width="0.26" text-anchor="end">20</text>
<line x1="36.40" y1="287.00" x2="39.00" y2="287.00" stroke="#222" stroke-width="1.17"/>
<text x="33.10" y="289.70" font-size="7.75" fill="#2a2a2a" stroke="#2a2a2a" stroke-width="0.26" text-anchor="end">0</text>
<line x1="36.40" y1="298.92" x2="39.00" y2="298.92" stroke="#222" stroke-width="1.17"/>
<text x="33.10" y="301.62" font-size="7.75" fill="#2a2a2a" stroke="#2a2a2a" stroke-width="0.26" text-anchor="end">−20</text>
<line x1="46.80" y1="304.60" x2="46.80" y2="306.90" stroke="#222" stroke-width="1.17"/>
<text x="48.70" y="314.40" font-size="7.7" fill="#222" stroke="#222" stroke-width="0.26" text-anchor="end" textLength="15.80" lengthAdjust="spacingAndGlyphs" transform="rotate(-45 48.70 314.40)">Mock</text>
<line x1="59.15" y1="304.60" x2="59.15" y2="306.90" stroke="#222" stroke-width="1.17"/>
<text x="61.05" y="314.40" font-size="7.7" fill="#222" stroke="#222" stroke-width="0.26" text-anchor="end" textLength="30.60" lengthAdjust="spacingAndGlyphs" transform="rotate(-45 61.05 314.40)">CMV TCR</text>
<line x1="71.50" y1="304.60" x2="71.50" y2="306.90" stroke="#222" stroke-width="1.17"/>
<text x="73.40" y="314.40" font-size="7.7" fill="#222" stroke="#222" stroke-width="0.26" text-anchor="end" textLength="35.40" lengthAdjust="spacingAndGlyphs" transform="rotate(-45 73.40 314.40)">BOB1 TCR</text>
<line x1="83.85" y1="304.60" x2="83.85" y2="306.90" stroke="#222" stroke-width="1.17"/>
<text x="85.75" y="314.40" font-size="7.7" fill="#222" stroke="#222" stroke-width="0.26" text-anchor="end" textLength="38.60" lengthAdjust="spacingAndGlyphs" transform="rotate(-45 85.75 314.40)">BCMA CAR</text>
<line x1="96.20" y1="304.60" x2="96.20" y2="306.90" stroke="#222" stroke-width="1.17"/>
<text x="98.10" y="314.40" font-size="7.7" fill="#222" stroke="#222" stroke-width="0.26" text-anchor="end" textLength="47.80" lengthAdjust="spacingAndGlyphs" transform="rotate(-45 98.10 314.40)">TCR : CAR Mix</text>
<line x1="115.60" y1="304.60" x2="115.60" y2="306.90" stroke="#222" stroke-width="1.17"/>
<text x="117.50" y="314.40" font-size="7.7" fill="#222" stroke="#222" stroke-width="0.26" text-anchor="end" textLength="15.80" lengthAdjust="spacingAndGlyphs" transform="rotate(-45 117.50 314.40)">Mock</text>
<line x1="127.90" y1="304.60" x2="127.90" y2="306.90" stroke="#222" stroke-width="1.17"/>
<text x="129.80" y="314.40" font-size="7.7" fill="#222" stroke="#222" stroke-width="0.26" text-anchor="end" textLength="30.60" lengthAdjust="spacingAndGlyphs" transform="rotate(-45 129.80 314.40)">CMV TCR</text>
<line x1="140.20" y1="304.60" x2="140.20" y2="306.90" stroke="#222" stroke-width="1.17"/>
<text x="142.10" y="314.40" font-size="7.7" fill="#222" stroke="#222" stroke-width="0.26" text-anchor="end" textLength="35.40" lengthAdjust="spacingAndGlyphs" transform="rotate(-45 142.10 314.40)">BOB1 TCR</text>
<line x1="152.50" y1="304.60" x2="152.50" y2="306.90" stroke="#222" stroke-width="1.17"/>
<text x="154.40" y="314.40" font-size="7.7" fill="#222" stroke="#222" stroke-width="0.26" text-anchor="end" textLength="38.60" lengthAdjust="spacingAndGlyphs" transform="rotate(-45 154.40 314.40)">BCMA CAR</text>
<line x1="164.80" y1="304.60" x2="164.80" y2="306.90" stroke="#222" stroke-width="1.17"/>
<text x="166.70" y="314.40" font-size="7.7" fill="#222" stroke="#222" stroke-width="0.26" text-anchor="end" textLength="47.80" lengthAdjust="spacingAndGlyphs" transform="rotate(-45 166.70 314.40)">TCR : CAR Mix</text>
<text x="95.80" y="184.70" font-size="9.3" fill="#1a1a1a" stroke="#1a1a1a" stroke-width="0.28" textLength="18.70" lengthAdjust="spacingAndGlyphs">MM1</text>
<line x1="60.30" y1="199.50" x2="95.80" y2="199.50" stroke="#808080" stroke-width="1.30"/>
<text x="77.70" y="198.00" font-size="5.6" fill="#444" stroke="#444" stroke-width="0.26" text-anchor="middle" textLength="16.80" lengthAdjust="spacingAndGlyphs">&lt;0.001</text>
<line x1="59.50" y1="211.00" x2="84.40" y2="211.00" stroke="#808080" stroke-width="1.30"/>
<text x="72.10" y="209.10" font-size="5.6" fill="#444" stroke="#444" stroke-width="0.26" text-anchor="middle" textLength="17.00" lengthAdjust="spacingAndGlyphs">&lt;0.001</text>
<line x1="41.60" y1="223.90" x2="53.70" y2="223.90" stroke="#808080" stroke-width="1.30"/>
<text x="49.05" y="222.10" font-size="5.6" fill="#444" stroke="#444" stroke-width="0.26" text-anchor="middle" textLength="17.30" lengthAdjust="spacingAndGlyphs">0.9998</text>
<line x1="58.40" y1="223.90" x2="71.00" y2="223.90" stroke="#808080" stroke-width="1.30"/>
<text x="67.30" y="222.10" font-size="5.6" fill="#444" stroke="#444" stroke-width="0.26" text-anchor="middle" textLength="16.80" lengthAdjust="spacingAndGlyphs">&lt;0.001</text>
<line x1="127.40" y1="199.70" x2="163.80" y2="199.70" stroke="#808080" stroke-width="1.30"/>
<text x="145.35" y="197.70" font-size="5.6" fill="#444" stroke="#444" stroke-width="0.26" text-anchor="middle" textLength="16.90" lengthAdjust="spacingAndGlyphs">&lt;0.001</text>
<line x1="128.20" y1="211.20" x2="152.30" y2="211.20" stroke="#808080" stroke-width="1.30"/>
<text x="140.00" y="209.20" font-size="5.6" fill="#444" stroke="#444" stroke-width="0.26" text-anchor="middle" textLength="17.00" lengthAdjust="spacingAndGlyphs">&lt;0.001</text>
<line x1="111.00" y1="223.80" x2="120.80" y2="223.80" stroke="#808080" stroke-width="1.30"/>
<text x="115.35" y="222.30" font-size="5.6" fill="#444" stroke="#444" stroke-width="0.26" text-anchor="middle" textLength="15.30" lengthAdjust="spacingAndGlyphs">0.038</text>
<line x1="126.20" y1="223.80" x2="141.50" y2="223.80" stroke="#808080" stroke-width="1.30"/>
<text x="134.05" y="222.30" font-size="5.6" fill="#444" stroke="#444" stroke-width="0.26" text-anchor="middle" textLength="16.50" lengthAdjust="spacingAndGlyphs">&lt;0.001</text>
<text x="68.85" y="302.80" font-size="7.5" fill="#2a2a2a" stroke="#2a2a2a" stroke-width="0.26" text-anchor="middle" textLength="16.10" lengthAdjust="spacingAndGlyphs">0.1:1</text>
<text x="139.80" y="302.80" font-size="7.5" fill="#2a2a2a" stroke="#2a2a2a" stroke-width="0.26" text-anchor="middle" textLength="8.40" lengthAdjust="spacingAndGlyphs">1:1</text>
<text x="174.10" y="302.80" font-size="8.0" fill="#2a2a2a" stroke="#2a2a2a" stroke-width="0.26" textLength="10.40" lengthAdjust="spacingAndGlyphs">E:T</text>
<rect x="217.30" y="281.04" width="8.00" height="5.96" fill="#cce8c2"/>
<rect x="229.65" y="282.83" width="8.00" height="4.17" fill="#c2cde5"/>
<rect x="242.00" y="275.08" width="8.00" height="11.92" fill="#a3cff0"/>
<rect x="254.35" y="270.91" width="8.00" height="16.09" fill="#df867b"/>
<rect x="266.70" y="271.51" width="8.00" height="15.49" fill="#f9c68a"/>
<rect x="286.10" y="276.87" width="8.00" height="10.13" fill="#cce8c2"/>
<rect x="298.40" y="281.04" width="8.00" height="5.96" fill="#c2cde5"/>
<rect x="310.70" y="255.42" width="8.00" height="31.58" fill="#a3cff0"/>
<rect x="323.00" y="237.55" width="8.00" height="49.45" fill="#df867b"/>
<rect x="335.30" y="239.34" width="8.00" height="47.66" fill="#f9c68a"/>
<line x1="213.50" y1="287.00" x2="345.00" y2="287.00" stroke="#333" stroke-width="1.30" stroke-dasharray="1.0 1.4"/>
<line x1="221.30" y1="276.87" x2="221.30" y2="285.21" stroke="#4aa845" stroke-width="1.04"/>
<line x1="219.70" y1="276.87" x2="222.90" y2="276.87" stroke="#4aa845" stroke-width="1.04"/>
<line x1="219.70" y1="285.21" x2="222.90" y2="285.21" stroke="#4aa845" stroke-width="1.04"/>
<circle cx="219.10" cy="275.08" r="1.80" fill="#fff" stroke="#4aa845" stroke-width="0.85"/>
<rect x="218.77" y="275.07" width="3.60" height="3.60" fill="#fff" stroke="#4aa845" stroke-width="0.85"/>
<path d="M219.87,281.47 L224.19,281.47 L222.03,277.69 Z" fill="#fff" stroke="#4aa845" stroke-width="0.85" stroke-linejoin="round"/>
<path d="M221.34,280.61 L225.66,280.61 L223.50,284.39 Z" fill="#fff" stroke="#4aa845" stroke-width="0.85" stroke-linejoin="round"/>
<path d="M219.83,281.77 L222.08,284.02 L219.83,286.27 L217.58,284.02 Z" fill="#fff" stroke="#4aa845" stroke-width="0.85" stroke-linejoin="round"/>
<circle cx="221.30" cy="285.21" r="1.80" fill="#fff" stroke="#4aa845" stroke-width="0.85"/>
<line x1="233.65" y1="279.25" x2="233.65" y2="286.40" stroke="#2b4d85" stroke-width="1.04"/>
<line x1="232.05" y1="279.25" x2="235.25" y2="279.25" stroke="#2b4d85" stroke-width="1.04"/>
<line x1="232.05" y1="286.40" x2="235.25" y2="286.40" stroke="#2b4d85" stroke-width="1.04"/>
<circle cx="231.45" cy="278.06" r="1.80" fill="#fff" stroke="#2b4d85" stroke-width="0.85"/>
<rect x="231.12" y="278.05" width="3.60" height="3.60" fill="#fff" stroke="#2b4d85" stroke-width="0.85"/>
<path d="M232.22,283.26 L236.54,283.26 L234.38,279.48 Z" fill="#fff" stroke="#2b4d85" stroke-width="0.85" stroke-linejoin="round"/>
<path d="M233.69,281.81 L238.01,281.81 L235.85,285.59 Z" fill="#fff" stroke="#2b4d85" stroke-width="0.85" stroke-linejoin="round"/>
<path d="M232.18,282.96 L234.43,285.21 L232.18,287.46 L229.93,285.21 Z" fill="#fff" stroke="#2b4d85" stroke-width="0.85" stroke-linejoin="round"/>
<circle cx="233.65" cy="287.00" r="1.80" fill="#fff" stroke="#2b4d85" stroke-width="0.85"/>
<line x1="246.00" y1="273.30" x2="246.00" y2="276.87" stroke="#4aa9e2" stroke-width="1.04"/>
<line x1="244.40" y1="273.30" x2="247.60" y2="273.30" stroke="#4aa9e2" stroke-width="1.04"/>
<line x1="244.40" y1="276.87" x2="247.60" y2="276.87" stroke="#4aa9e2" stroke-width="1.04"/>
<circle cx="243.80" cy="273.89" r="1.80" fill="#fff" stroke="#4aa9e2" stroke-width="0.85"/>
<rect x="243.47" y="273.28" width="3.60" height="3.60" fill="#fff" stroke="#4aa9e2" stroke-width="0.85"/>
<path d="M244.57,277.90 L248.89,277.90 L246.73,274.12 Z" fill="#fff" stroke="#4aa9e2" stroke-width="0.85" stroke-linejoin="round"/>
<path d="M246.04,275.85 L250.36,275.85 L248.20,279.63 Z" fill="#fff" stroke="#4aa9e2" stroke-width="0.85" stroke-linejoin="round"/>
<path d="M244.53,276.41 L246.78,278.66 L244.53,280.91 L242.28,278.66 Z" fill="#fff" stroke="#4aa9e2" stroke-width="0.85" stroke-linejoin="round"/>
<line x1="258.35" y1="266.15" x2="258.35" y2="275.68" stroke="#d02843" stroke-width="1.04"/>
<line x1="256.75" y1="266.15" x2="259.95" y2="266.15" stroke="#d02843" stroke-width="1.04"/>
<line x1="256.75" y1="275.68" x2="259.95" y2="275.68" stroke="#d02843" stroke-width="1.04"/>
<circle cx="256.15" cy="261.98" r="1.80" fill="#fff" stroke="#d02843" stroke-width="0.85"/>
<rect x="255.82" y="265.54" width="3.60" height="3.60" fill="#fff" stroke="#d02843" stroke-width="0.85"/>
<path d="M256.92,270.75 L261.24,270.75 L259.08,266.97 Z" fill="#fff" stroke="#d02843" stroke-width="0.85" stroke-linejoin="round"/>
<path d="M258.39,270.49 L262.71,270.49 L260.55,274.27 Z" fill="#fff" stroke="#d02843" stroke-width="0.85" stroke-linejoin="round"/>
<path d="M256.88,271.64 L259.13,273.89 L256.88,276.14 L254.63,273.89 Z" fill="#fff" stroke="#d02843" stroke-width="0.85" stroke-linejoin="round"/>
<circle cx="258.35" cy="276.28" r="1.80" fill="#fff" stroke="#d02843" stroke-width="0.85"/>
<line x1="270.70" y1="266.74" x2="270.70" y2="276.28" stroke="#f2a23a" stroke-width="1.04"/>
<line x1="269.10" y1="266.74" x2="272.30" y2="266.74" stroke="#f2a23a" stroke-width="1.04"/>
<line x1="269.10" y1="276.28" x2="272.30" y2="276.28" stroke="#f2a23a" stroke-width="1.04"/>
<circle cx="268.50" cy="264.36" r="1.80" fill="#fff" stroke="#f2a23a" stroke-width="0.85"/>
<rect x="268.17" y="266.13" width="3.60" height="3.60" fill="#fff" stroke="#f2a23a" stroke-width="0.85"/>
<path d="M269.27,272.53 L273.59,272.53 L271.43,268.75 Z" fill="#fff" stroke="#f2a23a" stroke-width="0.85" stroke-linejoin="round"/>
<path d="M270.74,272.27 L275.06,272.27 L272.90,276.05 Z" fill="#fff" stroke="#f2a23a" stroke-width="0.85" stroke-linejoin="round"/>
<path d="M269.23,274.03 L271.48,276.28 L269.23,278.53 L266.98,276.28 Z" fill="#fff" stroke="#f2a23a" stroke-width="0.85" stroke-linejoin="round"/>
<circle cx="270.70" cy="278.06" r="1.80" fill="#fff" stroke="#f2a23a" stroke-width="0.85"/>
<line x1="290.10" y1="273.30" x2="290.10" y2="280.45" stroke="#4aa845" stroke-width="1.04"/>
<line x1="288.50" y1="273.30" x2="291.70" y2="273.30" stroke="#4aa845" stroke-width="1.04"/>
<line x1="288.50" y1="280.45" x2="291.70" y2="280.45" stroke="#4aa845" stroke-width="1.04"/>
<circle cx="287.90" cy="271.51" r="1.80" fill="#fff" stroke="#4aa845" stroke-width="0.85"/>
<rect x="287.57" y="272.09" width="3.60" height="3.60" fill="#fff" stroke="#4aa845" stroke-width="0.85"/>
<path d="M288.67,277.90 L292.99,277.90 L290.83,274.12 Z" fill="#fff" stroke="#4aa845" stroke-width="0.85" stroke-linejoin="round"/>
<path d="M290.14,276.44 L294.46,276.44 L292.30,280.22 Z" fill="#fff" stroke="#4aa845" stroke-width="0.85" stroke-linejoin="round"/>
<path d="M288.63,277.60 L290.88,279.85 L288.63,282.10 L286.38,279.85 Z" fill="#fff" stroke="#4aa845" stroke-width="0.85" stroke-linejoin="round"/>
<circle cx="290.10" cy="282.23" r="1.80" fill="#fff" stroke="#4aa845" stroke-width="0.85"/>
<line x1="302.40" y1="278.66" x2="302.40" y2="283.43" stroke="#2b4d85" stroke-width="1.04"/>
<line x1="300.80" y1="278.66" x2="304.00" y2="278.66" stroke="#2b4d85" stroke-width="1.04"/>
<line x1="300.80" y1="283.43" x2="304.00" y2="283.43" stroke="#2b4d85" stroke-width="1.04"/>
<circle cx="300.20" cy="278.06" r="1.80" fill="#fff" stroke="#2b4d85" stroke-width="0.85"/>
<rect x="299.87" y="278.05" width="3.60" height="3.60" fill="#fff" stroke="#2b4d85" stroke-width="0.85"/>
<path d="M300.97,282.66 L305.29,282.66 L303.13,278.88 Z" fill="#fff" stroke="#2b4d85" stroke-width="0.85" stroke-linejoin="round"/>
<path d="M302.44,280.61 L306.76,280.61 L304.60,284.39 Z" fill="#fff" stroke="#2b4d85" stroke-width="0.85" stroke-linejoin="round"/>
<path d="M300.93,281.77 L303.18,284.02 L300.93,286.27 L298.68,284.02 Z" fill="#fff" stroke="#2b4d85" stroke-width="0.85" stroke-linejoin="round"/>
<circle cx="302.40" cy="285.81" r="1.80" fill="#fff" stroke="#2b4d85" stroke-width="0.85"/>
<line x1="314.70" y1="248.27" x2="314.70" y2="262.57" stroke="#4aa9e2" stroke-width="1.04"/>
<line x1="313.10" y1="248.27" x2="316.30" y2="248.27" stroke="#4aa9e2" stroke-width="1.04"/>
<line x1="313.10" y1="262.57" x2="316.30" y2="262.57" stroke="#4aa9e2" stroke-width="1.04"/>
<circle cx="312.50" cy="245.29" r="1.80" fill="#fff" stroke="#4aa9e2" stroke-width="0.85"/>
<rect x="312.17" y="243.49" width="3.60" height="3.60" fill="#fff" stroke="#4aa9e2" stroke-width="0.85"/>
<path d="M313.27,254.06 L317.59,254.06 L315.43,250.28 Z" fill="#fff" stroke="#4aa9e2" stroke-width="0.85" stroke-linejoin="round"/>
<path d="M314.74,254.40 L319.06,254.40 L316.90,258.18 Z" fill="#fff" stroke="#4aa9e2" stroke-width="0.85" stroke-linejoin="round"/>
<path d="M313.23,257.94 L315.48,260.19 L313.23,262.44 L310.98,260.19 Z" fill="#fff" stroke="#4aa9e2" stroke-width="0.85" stroke-linejoin="round"/>
<circle cx="314.70" cy="264.36" r="1.80" fill="#fff" stroke="#4aa9e2" stroke-width="0.85"/>
<line x1="327.00" y1="233.38" x2="327.00" y2="241.72" stroke="#d02843" stroke-width="1.04"/>
<line x1="325.40" y1="233.38" x2="328.60" y2="233.38" stroke="#d02843" stroke-width="1.04"/>
<line x1="325.40" y1="241.72" x2="328.60" y2="241.72" stroke="#d02843" stroke-width="1.04"/>
<circle cx="324.80" cy="230.40" r="1.80" fill="#fff" stroke="#d02843" stroke-width="0.85"/>
<rect x="324.47" y="230.39" width="3.60" height="3.60" fill="#fff" stroke="#d02843" stroke-width="0.85"/>
<path d="M325.57,236.19 L329.89,236.19 L327.73,232.41 Z" fill="#fff" stroke="#d02843" stroke-width="0.85" stroke-linejoin="round"/>
<path d="M327.04,234.74 L331.36,234.74 L329.20,238.52 Z" fill="#fff" stroke="#d02843" stroke-width="0.85" stroke-linejoin="round"/>
<path d="M325.53,237.09 L327.78,239.34 L325.53,241.59 L323.28,239.34 Z" fill="#fff" stroke="#d02843" stroke-width="0.85" stroke-linejoin="round"/>
<circle cx="327.00" cy="240.53" r="1.80" fill="#fff" stroke="#d02843" stroke-width="0.85"/>
<line x1="339.30" y1="234.57" x2="339.30" y2="244.10" stroke="#f2a23a" stroke-width="1.04"/>
<line x1="337.70" y1="234.57" x2="340.90" y2="234.57" stroke="#f2a23a" stroke-width="1.04"/>
<line x1="337.70" y1="244.10" x2="340.90" y2="244.10" stroke="#f2a23a" stroke-width="1.04"/>
<circle cx="337.10" cy="231.59" r="1.80" fill="#fff" stroke="#f2a23a" stroke-width="0.85"/>
<rect x="336.77" y="231.58" width="3.60" height="3.60" fill="#fff" stroke="#f2a23a" stroke-width="0.85"/>
<path d="M337.87,239.17 L342.19,239.17 L340.03,235.39 Z" fill="#fff" stroke="#f2a23a" stroke-width="0.85" stroke-linejoin="round"/>
<path d="M339.34,238.91 L343.66,238.91 L341.50,242.69 Z" fill="#fff" stroke="#f2a23a" stroke-width="0.85" stroke-linejoin="round"/>
<path d="M337.83,240.06 L340.08,242.31 L337.83,244.56 L335.58,242.31 Z" fill="#fff" stroke="#f2a23a" stroke-width="0.85" stroke-linejoin="round"/>
<circle cx="339.30" cy="245.29" r="1.80" fill="#fff" stroke="#f2a23a" stroke-width="0.85"/>
<line x1="279.90" y1="214.00" x2="279.90" y2="304.50" stroke="#808080" stroke-width="1.43" stroke-dasharray="1.3 1.7"/>
<line x1="213.50" y1="212.50" x2="213.50" y2="304.60" stroke="#222" stroke-width="1.30"/>
<line x1="213.00" y1="304.60" x2="346.80" y2="304.60" stroke="#222" stroke-width="1.30"/>
<line x1="210.90" y1="215.50" x2="213.50" y2="215.50" stroke="#222" stroke-width="1.17"/>
<text x="207.60" y="218.20" font-size="7.75" fill="#2a2a2a" stroke="#2a2a2a" stroke-width="0.26" text-anchor="end">120</text>
<line x1="210.90" y1="227.42" x2="213.50" y2="227.42" stroke="#222" stroke-width="1.17"/>
<text x="207.60" y="230.12" font-size="7.75" fill="#2a2a2a" stroke="#2a2a2a" stroke-width="0.26" text-anchor="end">100</text>
<line x1="210.90" y1="239.34" x2="213.50" y2="239.34" stroke="#222" stroke-width="1.17"/>
<text x="207.60" y="242.04" font-size="7.75" fill="#2a2a2a" stroke="#2a2a2a" stroke-width="0.26" text-anchor="end">80</text>
<line x1="210.90" y1="251.25" x2="213.50" y2="251.25" stroke="#222" stroke-width="1.17"/>
<text x="207.60" y="253.95" font-size="7.75" fill="#2a2a2a" stroke="#2a2a2a" stroke-width="0.26" text-anchor="end">60</text>
<line x1="210.90" y1="263.17" x2="213.50" y2="263.17" stroke="#222" stroke-width="1.17"/>
<text x="207.60" y="265.87" font-size="7.75" fill="#2a2a2a" stroke="#2a2a2a" stroke-width="0.26" text-anchor="end">40</text>
<line x1="210.90" y1="275.08" x2="213.50" y2="275.08" stroke="#222" stroke-width="1.17"/>
<text x="207.60" y="277.78" font-size="7.75" fill="#2a2a2a" stroke="#2a2a2a" stroke-width="0.26" text-anchor="end">20</text>
<line x1="210.90" y1="287.00" x2="213.50" y2="287.00" stroke="#222" stroke-width="1.17"/>
<text x="207.60" y="289.70" font-size="7.75" fill="#2a2a2a" stroke="#2a2a2a" stroke-width="0.26" text-anchor="end">0</text>
<line x1="210.90" y1="298.92" x2="213.50" y2="298.92" stroke="#222" stroke-width="1.17"/>
<text x="207.60" y="301.62" font-size="7.75" fill="#2a2a2a" stroke="#2a2a2a" stroke-width="0.26" text-anchor="end">−20</text>
<line x1="221.30" y1="304.60" x2="221.30" y2="306.90" stroke="#222" stroke-width="1.17"/>
<text x="223.20" y="314.40" font-size="7.7" fill="#222" stroke="#222" stroke-width="0.26" text-anchor="end" textLength="15.80" lengthAdjust="spacingAndGlyphs" transform="rotate(-45 223.20 314.40)">Mock</text>
<line x1="233.65" y1="304.60" x2="233.65" y2="306.90" stroke="#222" stroke-width="1.17"/>
<text x="235.55" y="314.40" font-size="7.7" fill="#222" stroke="#222" stroke-width="0.26" text-anchor="end" textLength="30.60" lengthAdjust="spacingAndGlyphs" transform="rotate(-45 235.55 314.40)">CMV TCR</text>
<line x1="246.00" y1="304.60" x2="246.00" y2="306.90" stroke="#222" stroke-width="1.17"/>
<text x="247.90" y="314.40" font-size="7.7" fill="#222" stroke="#222" stroke-width="0.26" text-anchor="end" textLength="35.40" lengthAdjust="spacingAndGlyphs" transform="rotate(-45 247.90 314.40)">BOB1 TCR</text>
<line x1="258.35" y1="304.60" x2="258.35" y2="306.90" stroke="#222" stroke-width="1.17"/>
<text x="260.25" y="314.40" font-size="7.7" fill="#222" stroke="#222" stroke-width="0.26" text-anchor="end" textLength="38.60" lengthAdjust="spacingAndGlyphs" transform="rotate(-45 260.25 314.40)">BCMA CAR</text>
<line x1="270.70" y1="304.60" x2="270.70" y2="306.90" stroke="#222" stroke-width="1.17"/>
<text x="272.60" y="314.40" font-size="7.7" fill="#222" stroke="#222" stroke-width="0.26" text-anchor="end" textLength="47.80" lengthAdjust="spacingAndGlyphs" transform="rotate(-45 272.60 314.40)">TCR : CAR Mix</text>
<line x1="290.10" y1="304.60" x2="290.10" y2="306.90" stroke="#222" stroke-width="1.17"/>
<text x="292.00" y="314.40" font-size="7.7" fill="#222" stroke="#222" stroke-width="0.26" text-anchor="end" textLength="15.80" lengthAdjust="spacingAndGlyphs" transform="rotate(-45 292.00 314.40)">Mock</text>
<line x1="302.40" y1="304.60" x2="302.40" y2="306.90" stroke="#222" stroke-width="1.17"/>
<text x="304.30" y="314.40" font-size="7.7" fill="#222" stroke="#222" stroke-width="0.26" text-anchor="end" textLength="30.60" lengthAdjust="spacingAndGlyphs" transform="rotate(-45 304.30 314.40)">CMV TCR</text>
<line x1="314.70" y1="304.60" x2="314.70" y2="306.90" stroke="#222" stroke-width="1.17"/>
<text x="316.60" y="314.40" font-size="7.7" fill="#222" stroke="#222" stroke-width="0.26" text-anchor="end" textLength="35.40" lengthAdjust="spacingAndGlyphs" transform="rotate(-45 316.60 314.40)">BOB1 TCR</text>
<line x1="327.00" y1="304.60" x2="327.00" y2="306.90" stroke="#222" stroke-width="1.17"/>
<text x="328.90" y="314.40" font-size="7.7" fill="#222" stroke="#222" stroke-width="0.26" text-anchor="end" textLength="38.60" lengthAdjust="spacingAndGlyphs" transform="rotate(-45 328.90 314.40)">BCMA CAR</text>
<line x1="339.30" y1="304.60" x2="339.30" y2="306.90" stroke="#222" stroke-width="1.17"/>
<text x="341.20" y="314.40" font-size="7.7" fill="#222" stroke="#222" stroke-width="0.26" text-anchor="end" textLength="47.80" lengthAdjust="spacingAndGlyphs" transform="rotate(-45 341.20 314.40)">TCR : CAR Mix</text>
<text x="269.50" y="184.70" font-size="9.3" fill="#1a1a1a" stroke="#1a1a1a" stroke-width="0.28" textLength="20.50" lengthAdjust="spacingAndGlyphs">MM2</text>
<line x1="234.70" y1="204.30" x2="270.40" y2="204.30" stroke="#808080" stroke-width="1.30"/>
<text x="252.45" y="202.50" font-size="5.6" fill="#444" stroke="#444" stroke-width="0.26" text-anchor="middle" textLength="14.70" lengthAdjust="spacingAndGlyphs">0.022</text>
<line x1="233.80" y1="213.00" x2="258.80" y2="213.00" stroke="#808080" stroke-width="1.30"/>
<text x="245.95" y="211.20" font-size="5.6" fill="#444" stroke="#444" stroke-width="0.26" text-anchor="middle" textLength="17.30" lengthAdjust="spacingAndGlyphs">&lt;0.001</text>
<line x1="218.30" y1="224.00" x2="233.00" y2="224.00" stroke="#808080" stroke-width="1.30"/>
<text x="225.35" y="222.30" font-size="5.6" fill="#444" stroke="#444" stroke-width="0.26" text-anchor="middle" textLength="13.50" lengthAdjust="spacingAndGlyphs">0.973</text>
<line x1="237.00" y1="224.00" x2="250.80" y2="224.00" stroke="#808080" stroke-width="1.30"/>
<text x="243.90" y="222.30" font-size="5.6" fill="#444" stroke="#444" stroke-width="0.26" text-anchor="middle" textLength="13.80" lengthAdjust="spacingAndGlyphs">0.528</text>
<line x1="304.30" y1="204.20" x2="339.60" y2="204.20" stroke="#808080" stroke-width="1.30"/>
<text x="321.85" y="202.30" font-size="5.6" fill="#444" stroke="#444" stroke-width="0.26" text-anchor="middle" textLength="18.50" lengthAdjust="spacingAndGlyphs">&lt;0.001</text>
<line x1="303.40" y1="212.70" x2="326.90" y2="212.70" stroke="#808080" stroke-width="1.30"/>
<text x="315.60" y="211.00" font-size="5.6" fill="#444" stroke="#444" stroke-width="0.26" text-anchor="middle" textLength="18.00" lengthAdjust="spacingAndGlyphs">&lt;0.001</text>
<line x1="286.00" y1="224.20" x2="299.70" y2="224.20" stroke="#808080" stroke-width="1.30"/>
<text x="292.55" y="221.90" font-size="5.6" fill="#444" stroke="#444" stroke-width="0.26" text-anchor="middle" textLength="14.30" lengthAdjust="spacingAndGlyphs">0.838</text>
<line x1="302.00" y1="224.20" x2="314.50" y2="224.20" stroke="#808080" stroke-width="1.30"/>
<text x="310.45" y="221.90" font-size="5.6" fill="#444" stroke="#444" stroke-width="0.26" text-anchor="middle" textLength="16.90" lengthAdjust="spacingAndGlyphs">&lt;0.001</text>
<text x="246.05" y="302.80" font-size="7.5" fill="#2a2a2a" stroke="#2a2a2a" stroke-width="0.26" text-anchor="middle" textLength="16.50" lengthAdjust="spacingAndGlyphs">0.1:1</text>
<text x="316.60" y="302.80" font-size="7.5" fill="#2a2a2a" stroke="#2a2a2a" stroke-width="0.26" text-anchor="middle" textLength="10.40" lengthAdjust="spacingAndGlyphs">1:1</text>
<text x="349.70" y="302.80" font-size="8.0" fill="#2a2a2a" stroke="#2a2a2a" stroke-width="0.26" textLength="10.30" lengthAdjust="spacingAndGlyphs">E:T</text>
<text x="12.10" y="258.20" font-size="7.6" fill="#333" stroke="#333" stroke-width="0.3" text-anchor="middle" textLength="21.90" lengthAdjust="spacingAndGlyphs" transform="rotate(-90 12.10 258.20)">%killing</text>
<defs><radialGradient id="gr" cx="0.5" cy="0.45" r="0.55"><stop offset="0" stop-color="#c41e3a"/><stop offset="0.6" stop-color="#d5485f"/><stop offset="1" stop-color="#eeb1bd"/></radialGradient><radialGradient id="gb" cx="0.55" cy="0.55" r="0.55"><stop offset="0" stop-color="#2f6fa3"/><stop offset="0.6" stop-color="#5b8fbb"/><stop offset="1" stop-color="#b9d0e3"/></radialGradient></defs>
<path d="M462.25,270.76 L461.50,270.84 L460.75,270.88 L460.00,270.90 L459.25,270.90 L458.50,270.87 L457.75,270.82 L457.05,270.75 L456.50,270.69 L455.75,270.58 L455.25,270.50 L454.50,270.37 L453.92,270.25 L453.25,270.12 L452.74,270.00 L452.00,269.83 L451.50,269.71 L450.75,269.53 L450.25,269.40 L449.72,269.25 L449.00,269.04 L448.50,268.89 L448.00,268.72 L447.37,268.50 L446.75,268.26 L446.25,268.06 L445.75,267.84 L445.25,267.59 L444.75,267.33 L444.25,267.04 L443.79,266.75 L443.42,266.50 L443.00,266.19 L442.50,265.78 L442.19,265.50 L441.75,265.07 L441.46,264.75 L441.05,264.25 L440.75,263.83 L440.50,263.44 L440.25,262.99 L440.00,262.47 L439.75,261.83 L439.57,261.25 L439.46,260.75 L439.34,260.00 L439.29,259.25 L439.30,258.50 L439.35,257.75 L439.44,257.00 L439.52,256.50 L439.65,255.75 L439.75,255.18 L439.86,254.50 L439.98,253.75 L440.05,253.25 L440.13,252.50 L440.20,251.75 L440.25,251.22 L440.31,250.50 L440.39,249.75 L440.49,249.00 L440.56,248.50 L440.69,247.75 L440.79,247.25 L440.97,246.50 L441.11,246.00 L441.26,245.50 L441.50,244.78 L441.70,244.25 L441.90,243.75 L442.12,243.25 L442.36,242.75 L442.61,242.25 L442.89,241.75 L443.18,241.25 L443.50,240.75 L443.75,240.38 L444.01,240.00 L444.39,239.50 L444.75,239.05 L445.00,238.75 L445.44,238.25 L445.75,237.92 L446.17,237.50 L446.50,237.19 L446.99,236.75 L447.29,236.50 L447.75,236.13 L448.25,235.75 L448.61,235.50 L449.00,235.24 L449.50,234.92 L450.00,234.62 L450.50,234.35 L451.00,234.09 L451.50,233.86 L452.00,233.64 L452.50,233.43 L453.00,233.25 L453.75,233.00 L454.25,232.85 L454.75,232.72 L455.50,232.55 L456.00,232.45 L456.75,232.33 L457.47,232.25 L458.00,232.20 L458.75,232.17 L459.50,232.16 L460.25,232.18 L461.00,232.23 L461.50,232.28 L462.25,232.38 L462.90,232.50 L463.50,232.62 L464.02,232.75 L464.75,232.95 L465.25,233.11 L465.75,233.28 L466.33,233.50 L466.94,233.75 L467.49,234.00 L467.99,234.25 L468.47,234.50 L468.91,234.75 L469.33,235.00 L469.75,235.27 L470.25,235.60 L470.75,235.96 L471.13,236.25 L471.50,236.55 L472.00,236.98 L472.30,237.25 L472.75,237.67 L473.08,238.00 L473.50,238.45 L473.77,238.75 L474.19,239.25 L474.50,239.63 L474.78,240.00 L475.14,240.50 L475.47,241.00 L475.75,241.44 L476.00,241.86 L476.25,242.30 L476.50,242.77 L476.75,243.27 L477.00,243.80 L477.25,244.38 L477.50,245.00 L477.69,245.50 L477.87,246.00 L478.03,246.50 L478.25,247.23 L478.40,247.75 L478.53,248.25 L478.72,249.00 L478.84,249.50 L479.00,250.24 L479.11,250.75 L479.24,251.50 L479.33,252.00 L479.43,252.75 L479.50,253.33 L479.56,254.00 L479.60,254.75 L479.61,255.50 L479.59,256.25 L479.52,257.00 L479.46,257.50 L479.33,258.25 L479.21,258.75 L479.00,259.50 L478.84,260.00 L478.65,260.50 L478.43,261.00 L478.19,261.50 L477.92,262.00 L477.62,262.50 L477.29,263.00 L477.00,263.39 L476.72,263.75 L476.30,264.25 L476.00,264.58 L475.59,265.00 L475.25,265.32 L474.76,265.75 L474.46,266.00 L474.00,266.36 L473.50,266.72 L473.08,267.00 L472.69,267.25 L472.25,267.52 L471.75,267.80 L471.25,268.07 L470.75,268.32 L470.25,268.55 L469.75,268.77 L469.20,269.00 L468.55,269.25 L468.00,269.45 L467.50,269.62 L467.00,269.77 L466.25,269.99 L465.75,270.13 L465.23,270.25 L464.50,270.41 L464.00,270.51 L463.25,270.64 L462.50,270.74 Z" fill="#c8d9ea" fill-opacity="0.26" stroke="#2b5580" stroke-width="0.45" stroke-opacity="0.75"/>
<path d="M461.50,268.50 L460.75,268.54 L460.00,268.55 L459.25,268.55 L458.50,268.52 L458.00,268.50 L457.25,268.45 L456.50,268.38 L455.75,268.31 L455.22,268.25 L454.50,268.17 L453.75,268.07 L453.23,268.00 L452.50,267.90 L451.75,267.78 L451.25,267.69 L450.50,267.54 L450.00,267.44 L449.25,267.25 L448.75,267.12 L448.25,266.96 L447.63,266.75 L447.00,266.51 L446.50,266.29 L446.00,266.05 L445.50,265.77 L445.05,265.50 L444.68,265.25 L444.25,264.93 L443.75,264.51 L443.48,264.25 L443.02,263.75 L442.75,263.42 L442.45,263.00 L442.15,262.50 L441.90,262.00 L441.70,261.50 L441.50,260.81 L441.39,260.25 L441.31,259.50 L441.31,258.75 L441.38,258.00 L441.50,257.25 L441.60,256.75 L441.75,256.09 L441.89,255.50 L442.02,255.00 L442.19,254.25 L442.30,253.75 L442.43,253.00 L442.50,252.50 L442.60,251.75 L442.69,251.00 L442.75,250.45 L442.84,249.75 L442.95,249.00 L443.04,248.50 L443.19,247.75 L443.31,247.25 L443.50,246.56 L443.67,246.00 L443.85,245.50 L444.04,245.00 L444.26,244.50 L444.50,243.97 L444.75,243.48 L445.01,243.00 L445.31,242.50 L445.62,242.00 L445.97,241.50 L446.25,241.12 L446.54,240.75 L446.96,240.25 L447.25,239.93 L447.66,239.50 L448.00,239.17 L448.46,238.75 L448.75,238.50 L449.25,238.09 L449.71,237.75 L450.06,237.50 L450.50,237.21 L451.00,236.90 L451.50,236.62 L452.00,236.36 L452.50,236.12 L453.00,235.90 L453.50,235.70 L454.07,235.50 L454.75,235.28 L455.25,235.15 L455.88,235.00 L456.50,234.88 L457.25,234.76 L457.75,234.71 L458.50,234.65 L459.25,234.63 L460.00,234.64 L460.75,234.69 L461.33,234.75 L462.00,234.84 L462.75,234.98 L463.25,235.10 L463.83,235.25 L464.50,235.45 L465.00,235.62 L465.50,235.81 L466.00,236.02 L466.50,236.25 L467.00,236.50 L467.50,236.77 L468.00,237.06 L468.50,237.38 L469.00,237.72 L469.38,238.00 L469.75,238.28 L470.25,238.70 L470.59,239.00 L471.00,239.38 L471.37,239.75 L471.75,240.16 L472.05,240.50 L472.47,241.00 L472.75,241.36 L473.04,241.75 L473.38,242.25 L473.70,242.75 L474.00,243.25 L474.25,243.69 L474.50,244.16 L474.75,244.67 L475.00,245.21 L475.23,245.75 L475.44,246.25 L475.64,246.75 L475.82,247.25 L476.00,247.76 L476.25,248.50 L476.41,249.00 L476.57,249.50 L476.75,250.13 L476.93,250.75 L477.06,251.25 L477.24,252.00 L477.35,252.50 L477.49,253.25 L477.57,253.75 L477.65,254.50 L477.70,255.25 L477.71,256.00 L477.67,256.75 L477.59,257.50 L477.50,258.00 L477.32,258.75 L477.17,259.25 L477.00,259.75 L476.75,260.34 L476.50,260.85 L476.25,261.31 L475.98,261.75 L475.64,262.25 L475.25,262.75 L475.00,263.04 L474.58,263.50 L474.25,263.83 L473.78,264.25 L473.48,264.50 L473.00,264.87 L472.50,265.22 L472.07,265.50 L471.66,265.75 L471.21,266.00 L470.72,266.25 L470.19,266.50 L469.62,266.75 L469.00,266.99 L468.50,267.17 L468.00,267.34 L467.46,267.50 L466.75,267.70 L466.25,267.82 L465.50,267.98 L465.00,268.08 L464.25,268.21 L463.75,268.28 L463.00,268.38 L462.25,268.45 L461.57,268.50 Z" fill="#b6cbe1" fill-opacity="0.26" stroke="#2b5580" stroke-width="0.45" stroke-opacity="0.75"/>
<path d="M463.50,266.77 L462.75,266.83 L462.00,266.88 L461.25,266.90 L460.50,266.91 L459.75,266.91 L459.00,266.90 L458.25,266.87 L457.50,266.84 L456.75,266.80 L456.00,266.75 L455.50,266.72 L454.75,266.67 L454.00,266.62 L453.25,266.56 L452.68,266.50 L452.00,266.43 L451.25,266.32 L450.75,266.24 L450.00,266.10 L449.50,265.98 L448.75,265.77 L448.25,265.61 L447.75,265.43 L447.25,265.22 L446.75,264.97 L446.25,264.70 L445.75,264.38 L445.25,264.00 L444.95,263.75 L444.50,263.31 L444.22,263.00 L443.85,262.50 L443.54,262.00 L443.30,261.50 L443.12,261.00 L442.98,260.50 L442.86,259.75 L442.84,259.00 L442.89,258.25 L443.00,257.60 L443.13,257.00 L443.26,256.50 L443.48,255.75 L443.62,255.25 L443.77,254.75 L443.96,254.00 L444.07,253.50 L444.21,252.75 L444.29,252.25 L444.39,251.50 L444.49,250.75 L444.55,250.25 L444.66,249.50 L444.75,248.98 L444.90,248.25 L445.02,247.75 L445.23,247.00 L445.39,246.50 L445.57,246.00 L445.77,245.50 L446.00,244.98 L446.25,244.47 L446.50,244.00 L446.79,243.50 L447.11,243.00 L447.46,242.50 L447.75,242.11 L448.04,241.75 L448.48,241.25 L448.75,240.96 L449.21,240.50 L449.50,240.23 L450.00,239.80 L450.37,239.50 L450.75,239.22 L451.25,238.87 L451.75,238.55 L452.25,238.26 L452.75,238.00 L453.25,237.76 L453.75,237.54 L454.25,237.34 L454.75,237.17 L455.30,237.00 L456.00,236.82 L456.50,236.71 L457.25,236.58 L457.91,236.50 L458.50,236.45 L459.25,236.43 L460.00,236.44 L460.75,236.49 L461.25,236.55 L462.00,236.66 L462.50,236.76 L463.25,236.95 L463.75,237.09 L464.25,237.26 L464.89,237.50 L465.48,237.75 L466.00,238.00 L466.48,238.25 L466.92,238.50 L467.33,238.75 L467.75,239.02 L468.25,239.38 L468.73,239.75 L469.03,240.00 L469.50,240.41 L469.86,240.75 L470.25,241.15 L470.57,241.50 L471.00,242.00 L471.25,242.31 L471.58,242.75 L471.93,243.25 L472.25,243.74 L472.50,244.15 L472.75,244.59 L473.00,245.05 L473.25,245.54 L473.50,246.06 L473.75,246.60 L474.00,247.18 L474.24,247.75 L474.44,248.25 L474.63,248.75 L474.82,249.25 L475.01,249.75 L475.25,250.44 L475.44,251.00 L475.60,251.50 L475.75,252.02 L475.95,252.75 L476.06,253.25 L476.20,254.00 L476.27,254.50 L476.34,255.25 L476.36,256.00 L476.33,256.75 L476.25,257.45 L476.15,258.00 L476.00,258.60 L475.79,259.25 L475.60,259.75 L475.36,260.25 L475.09,260.75 L474.78,261.25 L474.50,261.64 L474.22,262.00 L473.78,262.50 L473.50,262.79 L473.01,263.25 L472.71,263.50 L472.25,263.86 L471.75,264.20 L471.27,264.50 L470.83,264.75 L470.35,265.00 L469.81,265.25 L469.25,265.49 L468.75,265.68 L468.25,265.85 L467.74,266.00 L467.00,266.20 L466.50,266.31 L465.75,266.46 L465.25,266.55 L464.50,266.66 L463.75,266.75 Z" fill="#a6c0da" fill-opacity="0.26" stroke="#2b5580" stroke-width="0.45" stroke-opacity="0.75"/>
<path d="M464.00,265.51 L463.25,265.56 L462.50,265.59 L461.75,265.60 L461.00,265.60 L460.25,265.59 L459.50,265.57 L458.75,265.54 L458.00,265.52 L457.50,265.50 L456.75,265.48 L456.00,265.45 L455.25,265.43 L454.50,265.41 L453.75,265.38 L453.00,265.34 L452.25,265.28 L451.75,265.23 L451.00,265.13 L450.27,265.00 L449.75,264.88 L449.25,264.75 L448.50,264.50 L448.00,264.30 L447.50,264.06 L447.00,263.78 L446.57,263.50 L446.24,263.25 L445.75,262.81 L445.45,262.50 L445.07,262.00 L444.77,261.50 L444.54,261.00 L444.37,260.50 L444.25,259.89 L444.20,259.25 L444.23,258.50 L444.30,258.00 L444.46,257.25 L444.60,256.75 L444.76,256.25 L445.00,255.50 L445.16,255.00 L445.30,254.50 L445.50,253.75 L445.60,253.25 L445.74,252.50 L445.81,252.00 L445.91,251.25 L446.00,250.58 L446.08,250.00 L446.21,249.25 L446.31,248.75 L446.49,248.00 L446.63,247.50 L446.80,247.00 L447.00,246.45 L447.25,245.85 L447.50,245.32 L447.75,244.84 L448.00,244.41 L448.25,244.00 L448.59,243.50 L448.97,243.00 L449.25,242.65 L449.60,242.25 L450.00,241.83 L450.34,241.50 L450.75,241.13 L451.22,240.75 L451.55,240.50 L452.00,240.18 L452.50,239.86 L453.00,239.57 L453.50,239.31 L454.00,239.08 L454.50,238.86 L455.00,238.68 L455.55,238.50 L456.25,238.31 L456.75,238.20 L457.50,238.07 L458.07,238.00 L458.75,237.95 L459.50,237.93 L460.25,237.96 L460.75,238.01 L461.50,238.10 L462.25,238.25 L462.75,238.37 L463.25,238.51 L463.96,238.75 L464.50,238.96 L465.00,239.18 L465.50,239.42 L466.00,239.69 L466.50,239.99 L466.90,240.25 L467.25,240.50 L467.75,240.87 L468.20,241.25 L468.50,241.52 L469.00,242.00 L469.25,242.26 L469.69,242.75 L470.00,243.12 L470.30,243.50 L470.66,244.00 L471.00,244.50 L471.25,244.90 L471.50,245.32 L471.75,245.76 L472.01,246.25 L472.27,246.75 L472.51,247.25 L472.75,247.76 L473.00,248.31 L473.25,248.87 L473.50,249.44 L473.74,250.00 L473.94,250.50 L474.14,251.00 L474.32,251.50 L474.50,252.01 L474.73,252.75 L474.87,253.25 L475.00,253.81 L475.13,254.50 L475.21,255.25 L475.24,256.00 L475.22,256.75 L475.13,257.50 L475.00,258.09 L474.81,258.75 L474.63,259.25 L474.40,259.75 L474.14,260.25 L473.82,260.75 L473.50,261.20 L473.25,261.51 L472.80,262.00 L472.50,262.29 L472.00,262.72 L471.64,263.00 L471.25,263.28 L470.75,263.59 L470.25,263.87 L469.75,264.12 L469.25,264.34 L468.75,264.54 L468.12,264.75 L467.50,264.93 L467.00,265.06 L466.25,265.22 L465.75,265.30 L465.00,265.41 L464.25,265.49 Z" fill="#97b4d3" fill-opacity="0.26" stroke="#2b5580" stroke-width="0.45" stroke-opacity="0.75"/>
<path d="M466.00,264.26 L465.25,264.37 L464.50,264.44 L463.75,264.48 L463.00,264.50 L462.25,264.50 L461.50,264.48 L460.75,264.45 L460.00,264.42 L459.25,264.38 L458.50,264.35 L457.75,264.32 L457.00,264.30 L456.25,264.29 L455.50,264.28 L454.75,264.27 L454.00,264.27 L453.35,264.25 L452.75,264.22 L452.00,264.17 L451.25,264.08 L450.74,264.00 L450.00,263.84 L449.50,263.70 L448.94,263.50 L448.37,263.25 L447.91,263.00 L447.50,262.74 L447.00,262.34 L446.66,262.00 L446.25,261.50 L446.00,261.08 L445.75,260.51 L445.61,260.00 L445.52,259.25 L445.54,258.50 L445.67,257.75 L445.80,257.25 L446.00,256.59 L446.20,256.00 L446.37,255.50 L446.53,255.00 L446.74,254.25 L446.86,253.75 L447.00,253.03 L447.08,252.50 L447.19,251.75 L447.25,251.25 L447.35,250.50 L447.47,249.75 L447.57,249.25 L447.74,248.50 L447.88,248.00 L448.04,247.50 L448.25,246.94 L448.50,246.35 L448.75,245.83 L449.00,245.36 L449.25,244.94 L449.54,244.50 L449.90,244.00 L450.25,243.56 L450.52,243.25 L450.99,242.75 L451.25,242.50 L451.75,242.06 L452.14,241.75 L452.50,241.48 L453.00,241.14 L453.50,240.84 L454.00,240.57 L454.50,240.33 L455.00,240.12 L455.50,239.94 L456.10,239.75 L456.75,239.58 L457.25,239.48 L458.00,239.37 L458.75,239.30 L459.50,239.29 L460.25,239.32 L461.00,239.39 L461.64,239.50 L462.25,239.63 L462.75,239.77 L463.47,240.00 L464.00,240.21 L464.50,240.43 L465.00,240.67 L465.50,240.95 L465.98,241.25 L466.35,241.50 L466.75,241.79 L467.25,242.19 L467.60,242.50 L468.00,242.88 L468.36,243.25 L468.75,243.68 L469.02,244.00 L469.41,244.50 L469.75,244.98 L470.00,245.35 L470.26,245.75 L470.56,246.25 L470.85,246.75 L471.12,247.25 L471.39,247.75 L471.64,248.25 L471.90,248.75 L472.14,249.25 L472.38,249.75 L472.62,250.25 L472.85,250.75 L473.07,251.25 L473.28,251.75 L473.50,252.33 L473.73,253.00 L473.88,253.50 L474.00,254.00 L474.14,254.75 L474.23,255.50 L474.24,256.25 L474.19,257.00 L474.07,257.75 L473.94,258.25 L473.75,258.80 L473.50,259.38 L473.25,259.85 L473.00,260.25 L472.64,260.75 L472.25,261.20 L471.96,261.50 L471.50,261.92 L471.08,262.25 L470.73,262.50 L470.25,262.80 L469.75,263.08 L469.25,263.32 L468.75,263.53 L468.14,263.75 L467.50,263.94 L467.00,264.07 L466.25,264.22 Z" fill="#88aacc" fill-opacity="0.26" stroke="#2b5580" stroke-width="0.45" stroke-opacity="0.75"/>
<path d="M464.50,263.50 L463.75,263.53 L463.00,263.53 L462.27,263.50 L461.75,263.47 L461.00,263.42 L460.25,263.37 L459.50,263.31 L458.75,263.25 L458.25,263.22 L457.50,263.19 L456.75,263.17 L456.00,263.16 L455.25,263.16 L454.50,263.16 L453.75,263.16 L453.00,263.14 L452.25,263.10 L451.50,263.01 L451.00,262.93 L450.25,262.75 L449.75,262.58 L449.25,262.37 L448.75,262.10 L448.25,261.75 L447.96,261.50 L447.53,261.00 L447.25,260.54 L447.03,260.00 L446.92,259.50 L446.89,258.75 L446.98,258.00 L447.09,257.50 L447.25,256.94 L447.47,256.25 L447.64,255.75 L447.80,255.25 L448.00,254.51 L448.12,254.00 L448.25,253.28 L448.33,252.75 L448.42,252.00 L448.50,251.36 L448.58,250.75 L448.70,250.00 L448.79,249.50 L448.97,248.75 L449.12,248.25 L449.28,247.75 L449.50,247.20 L449.75,246.64 L450.00,246.15 L450.25,245.72 L450.55,245.25 L450.91,244.75 L451.25,244.33 L451.54,244.00 L452.00,243.53 L452.31,243.25 L452.75,242.88 L453.25,242.50 L453.62,242.25 L454.03,242.00 L454.50,241.74 L455.00,241.50 L455.60,241.25 L456.25,241.03 L456.75,240.88 L457.35,240.75 L458.00,240.64 L458.75,240.57 L459.50,240.55 L460.25,240.58 L461.00,240.67 L461.50,240.76 L462.25,240.93 L462.75,241.08 L463.25,241.26 L463.82,241.50 L464.34,241.75 L464.81,242.00 L465.25,242.27 L465.75,242.60 L466.25,242.98 L466.57,243.25 L467.00,243.63 L467.37,244.00 L467.75,244.40 L468.05,244.75 L468.45,245.25 L468.75,245.65 L469.00,246.01 L469.33,246.50 L469.64,247.00 L469.94,247.50 L470.23,248.00 L470.50,248.48 L470.75,248.93 L471.00,249.38 L471.25,249.85 L471.50,250.32 L471.75,250.81 L472.00,251.32 L472.25,251.86 L472.50,252.44 L472.71,253.00 L472.88,253.50 L473.03,254.00 L473.19,254.75 L473.26,255.25 L473.31,256.00 L473.28,256.75 L473.22,257.25 L473.05,258.00 L472.88,258.50 L472.67,259.00 L472.40,259.50 L472.07,260.00 L471.75,260.41 L471.45,260.75 L471.00,261.18 L470.61,261.50 L470.25,261.76 L469.75,262.08 L469.25,262.35 L468.75,262.59 L468.25,262.79 L467.60,263.00 L467.00,263.16 L466.50,263.27 L465.75,263.39 L465.00,263.47 L464.50,263.50 Z" fill="#7a9fc6" fill-opacity="0.26" stroke="#2b5580" stroke-width="0.45" stroke-opacity="0.75"/>
<path d="M465.75,262.52 L465.00,262.60 L464.25,262.63 L463.50,262.62 L462.75,262.59 L462.00,262.53 L461.50,262.48 L460.75,262.40 L460.00,262.32 L459.41,262.25 L458.75,262.18 L458.00,262.12 L457.25,262.06 L456.50,262.03 L455.75,262.01 L455.00,262.00 L454.37,262.00 L453.75,261.99 L453.00,261.96 L452.25,261.89 L451.50,261.77 L451.00,261.64 L450.50,261.47 L450.00,261.23 L449.50,260.90 L449.08,260.50 L448.75,260.02 L448.54,259.50 L448.44,259.00 L448.45,258.25 L448.52,257.75 L448.70,257.00 L448.84,256.50 L449.00,255.94 L449.18,255.25 L449.29,254.75 L449.43,254.00 L449.50,253.48 L449.58,252.75 L449.66,252.00 L449.74,251.25 L449.80,250.75 L449.93,250.00 L450.03,249.50 L450.23,248.75 L450.39,248.25 L450.59,247.75 L450.81,247.25 L451.06,246.75 L451.36,246.25 L451.69,245.75 L452.00,245.35 L452.29,245.00 L452.75,244.51 L453.03,244.25 L453.50,243.85 L453.96,243.50 L454.34,243.25 L454.75,243.00 L455.25,242.74 L455.78,242.50 L456.46,242.25 L457.00,242.09 L457.50,241.97 L458.25,241.85 L459.00,241.79 L459.75,241.78 L460.50,241.84 L461.25,241.95 L461.75,242.07 L462.39,242.25 L463.00,242.47 L463.50,242.69 L464.00,242.94 L464.50,243.23 L464.92,243.50 L465.28,243.75 L465.75,244.12 L466.18,244.50 L466.50,244.81 L466.92,245.25 L467.25,245.62 L467.56,246.00 L467.94,246.50 L468.25,246.93 L468.50,247.30 L468.80,247.75 L469.11,248.25 L469.42,248.75 L469.73,249.25 L470.00,249.71 L470.25,250.13 L470.50,250.56 L470.75,251.01 L471.02,251.50 L471.27,252.00 L471.51,252.50 L471.75,253.06 L472.00,253.75 L472.15,254.25 L472.26,254.75 L472.37,255.50 L472.40,256.25 L472.34,257.00 L472.24,257.50 L472.01,258.25 L471.79,258.75 L471.51,259.25 L471.25,259.63 L470.95,260.00 L470.50,260.47 L470.17,260.75 L469.75,261.07 L469.25,261.39 L468.75,261.66 L468.25,261.88 L467.75,262.07 L467.15,262.25 L466.50,262.40 L465.91,262.50 Z" fill="#6c95bf" fill-opacity="0.26" stroke="#2b5580" stroke-width="0.45" stroke-opacity="0.75"/>
<path d="M466.00,261.54 L465.25,261.63 L464.50,261.66 L463.75,261.65 L463.00,261.60 L462.25,261.53 L461.75,261.46 L461.00,261.35 L460.40,261.25 L459.75,261.14 L459.00,261.02 L458.50,260.94 L457.75,260.84 L457.01,260.75 L456.50,260.70 L455.75,260.63 L455.00,260.57 L454.25,260.50 L453.75,260.44 L453.00,260.32 L452.50,260.20 L451.95,260.00 L451.50,259.75 L451.00,259.29 L450.75,258.88 L450.57,258.25 L450.54,257.50 L450.61,256.75 L450.71,256.00 L450.77,255.50 L450.85,254.75 L450.91,254.00 L450.95,253.25 L451.00,252.50 L451.03,252.00 L451.10,251.25 L451.20,250.50 L451.30,250.00 L451.48,249.25 L451.64,248.75 L451.83,248.25 L452.06,247.75 L452.33,247.25 L452.64,246.75 L453.00,246.26 L453.25,245.96 L453.68,245.50 L454.00,245.20 L454.50,244.79 L454.91,244.50 L455.31,244.25 L455.77,244.00 L456.31,243.75 L457.00,243.50 L457.50,243.36 L458.05,243.25 L458.75,243.16 L459.50,243.13 L460.25,243.17 L460.82,243.25 L461.50,243.39 L462.00,243.54 L462.58,243.75 L463.14,244.00 L463.61,244.25 L464.03,244.50 L464.50,244.82 L465.00,245.21 L465.34,245.50 L465.75,245.89 L466.09,246.25 L466.50,246.71 L466.75,247.01 L467.13,247.50 L467.50,248.00 L467.75,248.35 L468.03,248.75 L468.37,249.25 L468.70,249.75 L469.00,250.21 L469.25,250.60 L469.50,251.00 L469.81,251.50 L470.10,252.00 L470.37,252.50 L470.62,253.00 L470.83,253.50 L471.02,254.00 L471.23,254.75 L471.32,255.25 L471.39,256.00 L471.35,256.75 L471.25,257.29 L471.03,258.00 L470.79,258.50 L470.50,258.98 L470.25,259.31 L469.84,259.75 L469.50,260.06 L469.00,260.43 L468.50,260.73 L468.00,260.97 L467.50,261.17 L467.00,261.32 L466.25,261.50 Z" fill="#5f8ab9" fill-opacity="0.26" stroke="#2b5580" stroke-width="0.45" stroke-opacity="0.75"/>
<path d="M466.25,260.52 L465.50,260.64 L464.75,260.69 L464.00,260.68 L463.25,260.63 L462.50,260.53 L462.00,260.44 L461.25,260.30 L460.75,260.19 L460.00,260.02 L459.50,259.90 L458.84,259.75 L458.25,259.61 L457.75,259.49 L457.00,259.32 L456.50,259.20 L455.75,259.00 L455.25,258.85 L454.75,258.67 L454.25,258.44 L453.75,258.11 L453.38,257.75 L453.05,257.25 L452.85,256.75 L452.72,256.25 L452.59,255.50 L452.51,254.75 L452.47,254.25 L452.43,253.50 L452.42,252.75 L452.43,252.00 L452.49,251.25 L452.55,250.75 L452.70,250.00 L452.84,249.50 L453.02,249.00 L453.25,248.46 L453.50,247.99 L453.81,247.50 L454.18,247.00 L454.50,246.65 L454.91,246.25 L455.25,245.96 L455.75,245.61 L456.25,245.32 L456.75,245.08 L457.25,244.88 L457.75,244.73 L458.50,244.58 L459.25,244.52 L460.00,244.54 L460.75,244.64 L461.25,244.75 L462.00,244.99 L462.50,245.20 L463.00,245.46 L463.49,245.75 L463.85,246.00 L464.25,246.31 L464.75,246.74 L465.02,247.00 L465.50,247.50 L465.75,247.78 L466.14,248.25 L466.50,248.70 L466.75,249.02 L467.11,249.50 L467.48,250.00 L467.75,250.37 L468.02,250.75 L468.37,251.25 L468.71,251.75 L469.00,252.20 L469.25,252.62 L469.50,253.07 L469.75,253.59 L470.00,254.21 L470.17,254.75 L470.27,255.25 L470.34,256.00 L470.28,256.75 L470.17,257.25 L470.00,257.75 L469.74,258.25 L469.38,258.75 L469.00,259.16 L468.59,259.50 L468.23,259.75 L467.75,260.01 L467.20,260.25 L466.50,260.46 Z" fill="#5180b2" fill-opacity="0.26" stroke="#2b5580" stroke-width="0.45" stroke-opacity="0.75"/>
<path d="M466.00,259.50 L465.25,259.62 L464.50,259.65 L463.75,259.61 L463.00,259.52 L462.50,259.42 L461.75,259.25 L461.25,259.12 L460.75,258.98 L460.01,258.75 L459.50,258.58 L459.00,258.41 L458.50,258.23 L457.89,258.00 L457.30,257.75 L456.79,257.50 L456.34,257.25 L455.97,257.00 L455.50,256.60 L455.17,256.25 L454.83,255.75 L454.57,255.25 L454.37,254.75 L454.22,254.25 L454.07,253.50 L454.00,253.00 L453.95,252.25 L453.97,251.50 L454.03,251.00 L454.18,250.25 L454.34,249.75 L454.54,249.25 L454.80,248.75 L455.12,248.25 L455.50,247.79 L455.78,247.50 L456.25,247.11 L456.75,246.77 L457.25,246.51 L457.75,246.31 L458.25,246.17 L459.00,246.05 L459.75,246.03 L460.50,246.11 L461.12,246.25 L461.75,246.47 L462.25,246.70 L462.75,246.98 L463.16,247.25 L463.50,247.51 L464.00,247.93 L464.34,248.25 L464.75,248.66 L465.06,249.00 L465.50,249.50 L465.75,249.79 L466.13,250.25 L466.50,250.70 L466.75,251.02 L467.13,251.50 L467.50,252.00 L467.75,252.35 L468.02,252.75 L468.33,253.25 L468.60,253.75 L468.82,254.25 L469.00,254.77 L469.15,255.50 L469.17,256.25 L469.03,257.00 L468.83,257.50 L468.51,258.00 L468.25,258.31 L467.75,258.75 L467.35,259.00 L466.83,259.25 L466.25,259.44 Z" fill="#4476ac" fill-opacity="0.26" stroke="#2b5580" stroke-width="0.45" stroke-opacity="0.75"/>
<path d="M464.75,258.51 L464.11,258.50 L463.50,258.43 L462.75,258.29 L462.25,258.16 L461.72,258.00 L461.01,257.75 L460.50,257.55 L460.00,257.34 L459.50,257.11 L459.00,256.86 L458.50,256.58 L458.00,256.27 L457.63,256.00 L457.25,255.68 L456.82,255.25 L456.50,254.84 L456.25,254.44 L456.00,253.92 L455.78,253.25 L455.67,252.75 L455.61,252.00 L455.65,251.25 L455.75,250.75 L456.00,250.03 L456.25,249.56 L456.50,249.19 L456.90,248.75 L457.25,248.45 L457.75,248.13 L458.25,247.91 L458.80,247.75 L459.50,247.67 L460.25,247.71 L460.75,247.81 L461.33,248.00 L461.88,248.25 L462.31,248.50 L462.75,248.80 L463.25,249.19 L463.60,249.50 L464.00,249.88 L464.37,250.25 L464.75,250.65 L465.07,251.00 L465.50,251.48 L465.75,251.77 L466.16,252.25 L466.50,252.68 L466.75,253.01 L467.08,253.50 L467.37,254.00 L467.60,254.50 L467.77,255.00 L467.88,255.75 L467.79,256.50 L467.59,257.00 L467.25,257.48 L466.97,257.75 L466.50,258.06 L466.00,258.28 L465.25,258.46 L464.75,258.51 Z" fill="#376da6" fill-opacity="0.26" stroke="#2b5580" stroke-width="0.45" stroke-opacity="0.75"/>
<path d="M464.75,257.27 L464.00,257.30 L463.50,257.24 L462.75,257.07 L462.25,256.91 L461.75,256.72 L461.25,256.50 L460.75,256.25 L460.25,255.97 L459.75,255.66 L459.25,255.31 L458.87,255.00 L458.50,254.65 L458.15,254.25 L457.82,253.75 L457.58,253.25 L457.42,252.75 L457.34,252.00 L457.43,251.25 L457.62,250.75 L457.95,250.25 L458.25,249.96 L458.75,249.64 L459.25,249.46 L460.00,249.39 L460.73,249.50 L461.25,249.68 L461.75,249.93 L462.25,250.24 L462.61,250.50 L463.00,250.82 L463.49,251.25 L463.76,251.50 L464.25,251.98 L464.51,252.25 L464.97,252.75 L465.25,253.07 L465.59,253.50 L465.93,254.00 L466.20,254.50 L466.38,255.00 L466.45,255.75 L466.25,256.36 L465.94,256.75 L465.50,257.05 L464.86,257.25 Z" fill="#2a63a0" fill-opacity="0.26" stroke="#2b5580" stroke-width="0.45" stroke-opacity="0.75"/>
<path d="M448.50,260.75 L447.75,260.79 L447.00,260.81 L446.25,260.81 L445.50,260.80 L444.75,260.77 L444.25,260.74 L443.50,260.68 L442.75,260.60 L442.09,260.50 L441.50,260.40 L440.81,260.25 L440.25,260.12 L439.75,259.97 L439.05,259.75 L438.50,259.55 L438.00,259.35 L437.50,259.12 L437.00,258.88 L436.50,258.61 L436.00,258.31 L435.53,258.00 L435.17,257.75 L434.75,257.43 L434.25,257.02 L433.95,256.75 L433.50,256.32 L433.19,256.00 L432.75,255.50 L432.50,255.19 L432.16,254.75 L431.82,254.25 L431.50,253.75 L431.25,253.32 L431.00,252.85 L430.75,252.35 L430.50,251.79 L430.28,251.25 L430.09,250.75 L429.93,250.25 L429.75,249.67 L429.57,249.00 L429.45,248.50 L429.29,247.75 L429.20,247.25 L429.08,246.50 L429.00,245.82 L428.94,245.25 L428.90,244.50 L428.88,243.75 L428.89,243.00 L428.93,242.25 L429.00,241.60 L429.08,241.00 L429.22,240.25 L429.33,239.75 L429.50,239.09 L429.68,238.50 L429.85,238.00 L430.05,237.50 L430.26,237.00 L430.50,236.48 L430.75,235.99 L431.02,235.50 L431.32,235.00 L431.65,234.50 L432.00,234.00 L432.25,233.66 L432.57,233.25 L433.00,232.75 L433.25,232.47 L433.69,232.00 L434.00,231.70 L434.48,231.25 L434.76,231.00 L435.25,230.58 L435.67,230.25 L436.00,230.00 L436.50,229.64 L437.00,229.30 L437.48,229.00 L437.90,228.75 L438.34,228.50 L438.81,228.25 L439.30,228.00 L439.83,227.75 L440.39,227.50 L441.00,227.25 L441.50,227.06 L442.00,226.88 L442.50,226.72 L443.24,226.50 L443.75,226.36 L444.25,226.24 L445.00,226.07 L445.50,225.97 L446.25,225.85 L446.98,225.75 L447.50,225.69 L448.25,225.62 L449.00,225.58 L449.75,225.56 L450.50,225.56 L451.25,225.58 L452.00,225.63 L452.75,225.69 L453.26,225.75 L454.00,225.85 L454.75,225.97 L455.25,226.06 L456.00,226.22 L456.50,226.33 L457.15,226.50 L457.75,226.67 L458.25,226.82 L458.81,227.00 L459.50,227.24 L460.00,227.43 L460.50,227.62 L461.00,227.83 L461.50,228.05 L462.00,228.29 L462.50,228.53 L463.00,228.79 L463.50,229.07 L464.00,229.35 L464.50,229.66 L465.00,229.99 L465.38,230.25 L465.75,230.51 L466.25,230.89 L466.69,231.25 L467.00,231.51 L467.50,231.97 L467.79,232.25 L468.25,232.72 L468.50,233.00 L468.93,233.50 L469.25,233.92 L469.50,234.26 L469.83,234.75 L470.14,235.25 L470.42,235.75 L470.66,236.25 L470.89,236.75 L471.08,237.25 L471.25,237.75 L471.47,238.50 L471.58,239.00 L471.71,239.75 L471.77,240.25 L471.82,241.00 L471.83,241.75 L471.80,242.50 L471.75,243.00 L471.65,243.75 L471.51,244.50 L471.41,245.00 L471.25,245.59 L471.05,246.25 L470.89,246.75 L470.70,247.25 L470.50,247.75 L470.25,248.33 L470.00,248.85 L469.75,249.35 L469.50,249.80 L469.24,250.25 L468.94,250.75 L468.61,251.25 L468.25,251.75 L468.00,252.09 L467.68,252.50 L467.26,253.00 L467.00,253.29 L466.58,253.75 L466.25,254.08 L465.82,254.50 L465.50,254.79 L465.00,255.22 L464.66,255.50 L464.25,255.82 L463.75,256.19 L463.30,256.50 L462.92,256.75 L462.50,257.01 L462.00,257.31 L461.50,257.59 L461.00,257.85 L460.50,258.10 L460.00,258.33 L459.50,258.55 L459.00,258.75 L458.34,259.00 L457.75,259.21 L457.25,259.37 L456.75,259.52 L456.00,259.72 L455.50,259.85 L454.80,260.00 L454.25,260.11 L453.50,260.24 L453.00,260.33 L452.25,260.43 L451.66,260.50 L451.00,260.57 L450.25,260.64 L449.50,260.70 L448.75,260.74 Z" fill="#eeb0bd" fill-opacity="0.24" stroke="#a02040" stroke-width="0.45" stroke-opacity="0.7"/>
<path d="M448.25,258.77 L447.50,258.83 L446.75,258.88 L446.00,258.91 L445.25,258.92 L444.50,258.91 L443.75,258.87 L443.00,258.81 L442.50,258.75 L441.75,258.63 L441.14,258.50 L440.50,258.34 L440.00,258.19 L439.43,258.00 L438.80,257.75 L438.25,257.50 L437.76,257.25 L437.32,257.00 L436.92,256.75 L436.50,256.46 L436.00,256.08 L435.61,255.75 L435.25,255.42 L434.84,255.00 L434.50,254.62 L434.20,254.25 L433.83,253.75 L433.51,253.25 L433.25,252.81 L433.00,252.34 L432.75,251.81 L432.52,251.25 L432.34,250.75 L432.17,250.25 L432.00,249.61 L431.86,249.00 L431.75,248.45 L431.63,247.75 L431.54,247.00 L431.50,246.50 L431.44,245.75 L431.42,245.00 L431.42,244.25 L431.44,243.50 L431.50,242.75 L431.55,242.25 L431.65,241.50 L431.75,240.99 L431.91,240.25 L432.05,239.75 L432.25,239.10 L432.47,238.50 L432.67,238.00 L432.89,237.50 L433.15,237.00 L433.42,236.50 L433.72,236.00 L434.00,235.58 L434.25,235.22 L434.60,234.75 L435.00,234.26 L435.25,233.97 L435.69,233.50 L436.00,233.19 L436.46,232.75 L436.75,232.50 L437.25,232.08 L437.67,231.75 L438.02,231.50 L438.50,231.16 L439.00,230.84 L439.50,230.54 L440.00,230.26 L440.50,230.00 L441.00,229.76 L441.50,229.53 L442.00,229.32 L442.50,229.13 L443.00,228.95 L443.62,228.75 L444.25,228.56 L444.75,228.43 L445.50,228.26 L446.00,228.16 L446.75,228.03 L447.25,227.96 L448.00,227.87 L448.75,227.81 L449.50,227.78 L450.25,227.76 L451.00,227.77 L451.75,227.81 L452.50,227.86 L453.25,227.94 L453.75,228.01 L454.50,228.12 L455.19,228.25 L455.75,228.36 L456.34,228.50 L457.00,228.67 L457.50,228.81 L458.14,229.00 L458.75,229.20 L459.25,229.37 L459.75,229.56 L460.25,229.76 L460.81,230.00 L461.36,230.25 L461.87,230.50 L462.35,230.75 L462.80,231.00 L463.25,231.26 L463.75,231.58 L464.25,231.92 L464.71,232.25 L465.03,232.50 L465.50,232.89 L465.90,233.25 L466.25,233.58 L466.65,234.00 L467.00,234.40 L467.29,234.75 L467.66,235.25 L467.99,235.75 L468.25,236.19 L468.50,236.66 L468.75,237.21 L468.97,237.75 L469.13,238.25 L469.27,238.75 L469.43,239.50 L469.50,240.01 L469.56,240.75 L469.57,241.50 L469.53,242.25 L469.47,242.75 L469.35,243.50 L469.24,244.00 L469.05,244.75 L468.89,245.25 L468.72,245.75 L468.50,246.31 L468.25,246.89 L468.00,247.43 L467.75,247.92 L467.50,248.38 L467.25,248.81 L466.98,249.25 L466.65,249.75 L466.30,250.25 L466.00,250.65 L465.73,251.00 L465.31,251.50 L465.00,251.85 L464.63,252.25 L464.25,252.63 L463.86,253.00 L463.50,253.33 L463.00,253.75 L462.68,254.00 L462.25,254.33 L461.75,254.68 L461.27,255.00 L460.87,255.25 L460.44,255.50 L459.99,255.75 L459.50,256.01 L459.00,256.25 L458.44,256.50 L457.84,256.75 L457.25,256.98 L456.75,257.15 L456.25,257.32 L455.63,257.50 L455.00,257.67 L454.50,257.80 L453.75,257.97 L453.25,258.07 L452.50,258.21 L452.00,258.29 L451.25,258.41 L450.60,258.50 L450.00,258.58 L449.25,258.67 L448.50,258.74 Z" fill="#e99fae" fill-opacity="0.24" stroke="#a02040" stroke-width="0.45" stroke-opacity="0.7"/>
<path d="M446.50,257.51 L445.75,257.56 L445.00,257.58 L444.25,257.57 L443.50,257.53 L443.00,257.49 L442.25,257.39 L441.51,257.25 L441.00,257.13 L440.50,256.98 L439.82,256.75 L439.25,256.52 L438.75,256.28 L438.25,256.01 L437.83,255.75 L437.46,255.50 L437.00,255.15 L436.54,254.75 L436.25,254.48 L435.80,254.00 L435.50,253.64 L435.21,253.25 L434.88,252.75 L434.59,252.25 L434.33,251.75 L434.11,251.25 L433.93,250.75 L433.75,250.20 L433.56,249.50 L433.46,249.00 L433.33,248.25 L433.25,247.50 L433.21,247.00 L433.18,246.25 L433.17,245.50 L433.18,244.75 L433.23,244.00 L433.27,243.50 L433.35,242.75 L433.47,242.00 L433.56,241.50 L433.74,240.75 L433.87,240.25 L434.03,239.75 L434.25,239.14 L434.50,238.53 L434.75,238.00 L435.00,237.51 L435.25,237.07 L435.50,236.67 L435.78,236.25 L436.15,235.75 L436.50,235.31 L436.76,235.00 L437.23,234.50 L437.50,234.23 L438.00,233.76 L438.30,233.50 L438.75,233.13 L439.25,232.76 L439.62,232.50 L440.00,232.25 L440.50,231.94 L441.00,231.65 L441.50,231.39 L442.00,231.15 L442.50,230.93 L443.00,230.72 L443.59,230.50 L444.25,230.28 L444.75,230.13 L445.25,229.99 L446.00,229.82 L446.50,229.71 L447.25,229.59 L447.91,229.50 L448.50,229.44 L449.25,229.38 L450.00,229.35 L450.75,229.35 L451.50,229.37 L452.25,229.41 L453.00,229.48 L453.50,229.53 L454.25,229.64 L454.91,229.75 L455.50,229.86 L456.14,230.00 L456.75,230.15 L457.25,230.28 L458.00,230.50 L458.50,230.66 L459.00,230.83 L459.50,231.02 L460.07,231.25 L460.64,231.50 L461.17,231.75 L461.66,232.00 L462.12,232.25 L462.54,232.50 L463.00,232.79 L463.50,233.13 L463.98,233.50 L464.29,233.75 L464.75,234.15 L465.11,234.50 L465.50,234.91 L465.79,235.25 L466.18,235.75 L466.50,236.21 L466.75,236.62 L467.00,237.08 L467.25,237.62 L467.49,238.25 L467.65,238.75 L467.77,239.25 L467.90,240.00 L467.96,240.75 L467.96,241.50 L467.90,242.25 L467.78,243.00 L467.68,243.50 L467.50,244.16 L467.31,244.75 L467.12,245.25 L466.92,245.75 L466.69,246.25 L466.44,246.75 L466.17,247.25 L465.88,247.75 L465.57,248.25 L465.25,248.72 L465.00,249.08 L464.68,249.50 L464.29,250.00 L464.00,250.34 L463.64,250.75 L463.25,251.16 L462.91,251.50 L462.50,251.88 L462.08,252.25 L461.75,252.53 L461.25,252.92 L460.80,253.25 L460.43,253.50 L460.00,253.78 L459.50,254.08 L459.00,254.37 L458.50,254.63 L458.00,254.87 L457.50,255.09 L457.00,255.30 L456.48,255.50 L455.77,255.75 L455.25,255.92 L454.75,256.07 L454.07,256.25 L453.50,256.39 L453.00,256.51 L452.25,256.67 L451.75,256.77 L451.00,256.91 L450.45,257.00 L449.75,257.12 L449.00,257.23 L448.50,257.30 L447.75,257.39 L447.00,257.47 L446.50,257.51 Z" fill="#e590a1" fill-opacity="0.24" stroke="#a02040" stroke-width="0.45" stroke-opacity="0.7"/>
<path d="M447.25,256.26 L446.50,256.35 L445.75,256.41 L445.00,256.45 L444.25,256.45 L443.50,256.42 L442.75,256.34 L442.17,256.25 L441.50,256.11 L441.00,255.97 L440.34,255.75 L439.75,255.51 L439.25,255.26 L438.79,255.00 L438.40,254.75 L438.00,254.46 L437.50,254.04 L437.19,253.75 L436.75,253.28 L436.50,252.97 L436.16,252.50 L435.85,252.00 L435.59,251.50 L435.36,251.00 L435.18,250.50 L435.00,249.93 L434.84,249.25 L434.75,248.75 L434.65,248.00 L434.59,247.25 L434.57,246.50 L434.59,245.75 L434.63,245.00 L434.69,244.25 L434.75,243.75 L434.85,243.00 L434.99,242.25 L435.10,241.75 L435.25,241.14 L435.44,240.50 L435.61,240.00 L435.80,239.50 L436.01,239.00 L436.25,238.50 L436.52,238.00 L436.81,237.50 L437.14,237.00 L437.50,236.51 L437.75,236.19 L438.13,235.75 L438.50,235.35 L438.86,235.00 L439.25,234.64 L439.71,234.25 L440.03,234.00 L440.50,233.66 L441.00,233.32 L441.50,233.01 L441.97,232.75 L442.45,232.50 L442.98,232.25 L443.50,232.02 L444.00,231.83 L444.50,231.65 L445.00,231.49 L445.75,231.27 L446.25,231.15 L446.98,231.00 L447.50,230.91 L448.25,230.80 L448.75,230.75 L449.50,230.69 L450.25,230.66 L451.00,230.65 L451.75,230.67 L452.50,230.72 L453.00,230.76 L453.75,230.84 L454.50,230.94 L455.00,231.03 L455.75,231.17 L456.25,231.28 L457.00,231.47 L457.50,231.60 L458.00,231.75 L458.73,232.00 L459.25,232.19 L459.75,232.39 L460.25,232.61 L460.75,232.85 L461.25,233.11 L461.75,233.40 L462.25,233.71 L462.67,234.00 L463.01,234.25 L463.50,234.65 L463.89,235.00 L464.25,235.36 L464.61,235.75 L465.00,236.24 L465.25,236.60 L465.51,237.00 L465.78,237.50 L466.01,238.00 L466.25,238.65 L466.42,239.25 L466.52,239.75 L466.61,240.50 L466.62,241.25 L466.57,242.00 L466.50,242.50 L466.34,243.25 L466.20,243.75 L466.00,244.35 L465.75,244.98 L465.52,245.50 L465.26,246.00 L465.00,246.48 L464.75,246.91 L464.50,247.30 L464.20,247.75 L463.84,248.25 L463.50,248.69 L463.25,249.00 L462.82,249.50 L462.50,249.86 L462.12,250.25 L461.75,250.61 L461.32,251.00 L461.00,251.28 L460.50,251.69 L460.08,252.00 L459.73,252.25 L459.25,252.57 L458.75,252.88 L458.25,253.17 L457.75,253.43 L457.25,253.68 L456.75,253.90 L456.25,254.11 L455.75,254.31 L455.21,254.50 L454.50,254.73 L454.00,254.88 L453.50,255.02 L452.75,255.22 L452.25,255.34 L451.51,255.50 L451.00,255.61 L450.30,255.75 L449.75,255.86 L449.00,255.99 L448.50,256.08 L447.75,256.19 L447.25,256.26 Z" fill="#e18295" fill-opacity="0.24" stroke="#a02040" stroke-width="0.45" stroke-opacity="0.7"/>
<path d="M446.75,255.26 L446.00,255.35 L445.25,255.41 L444.50,255.43 L443.75,255.41 L443.00,255.35 L442.39,255.25 L441.75,255.11 L441.25,254.97 L440.63,254.75 L440.07,254.50 L439.60,254.25 L439.19,254.00 L438.75,253.68 L438.25,253.26 L437.98,253.00 L437.54,252.50 L437.25,252.11 L437.00,251.73 L436.73,251.25 L436.50,250.75 L436.25,250.06 L436.09,249.50 L435.99,249.00 L435.88,248.25 L435.82,247.50 L435.81,246.75 L435.84,246.00 L435.89,245.25 L435.98,244.50 L436.05,244.00 L436.18,243.25 L436.28,242.75 L436.45,242.00 L436.59,241.50 L436.75,240.97 L437.00,240.27 L437.21,239.75 L437.44,239.25 L437.70,238.75 L437.98,238.25 L438.25,237.83 L438.50,237.47 L438.86,237.00 L439.25,236.53 L439.51,236.25 L440.00,235.76 L440.28,235.50 L440.75,235.11 L441.21,234.75 L441.57,234.50 L442.00,234.22 L442.50,233.91 L443.00,233.64 L443.50,233.39 L444.00,233.17 L444.50,232.96 L445.09,232.75 L445.75,232.54 L446.25,232.40 L446.87,232.25 L447.50,232.12 L448.25,232.00 L448.75,231.93 L449.50,231.86 L450.25,231.82 L451.00,231.80 L451.75,231.81 L452.50,231.84 L453.25,231.90 L454.00,231.99 L454.50,232.05 L455.25,232.17 L455.75,232.27 L456.50,232.44 L457.00,232.56 L457.66,232.75 L458.25,232.94 L458.75,233.12 L459.25,233.31 L459.75,233.53 L460.25,233.77 L460.75,234.03 L461.25,234.32 L461.75,234.65 L462.24,235.00 L462.55,235.25 L463.00,235.65 L463.35,236.00 L463.75,236.46 L464.00,236.78 L464.32,237.25 L464.61,237.75 L464.85,238.25 L465.05,238.75 L465.25,239.47 L465.35,240.00 L465.42,240.75 L465.40,241.50 L465.32,242.25 L465.22,242.75 L465.01,243.50 L464.84,244.00 L464.64,244.50 L464.41,245.00 L464.15,245.50 L463.86,246.00 L463.55,246.50 L463.25,246.94 L463.00,247.29 L462.65,247.75 L462.25,248.24 L462.00,248.53 L461.57,249.00 L461.25,249.32 L460.81,249.75 L460.50,250.03 L460.00,250.46 L459.63,250.75 L459.25,251.04 L458.75,251.39 L458.25,251.71 L457.76,252.00 L457.31,252.25 L456.82,252.50 L456.30,252.75 L455.75,252.99 L455.25,253.19 L454.75,253.37 L454.25,253.55 L453.61,253.75 L453.00,253.93 L452.50,254.07 L451.78,254.25 L451.25,254.38 L450.73,254.50 L450.00,254.67 L449.50,254.77 L448.75,254.93 L448.25,255.02 L447.50,255.15 L446.84,255.25 Z" fill="#dd7489" fill-opacity="0.24" stroke="#a02040" stroke-width="0.45" stroke-opacity="0.7"/>
<path d="M446.75,254.25 L446.00,254.35 L445.25,254.42 L444.50,254.44 L443.75,254.42 L443.00,254.35 L442.45,254.25 L441.75,254.07 L441.25,253.91 L440.75,253.69 L440.25,253.44 L439.75,253.12 L439.27,252.75 L438.99,252.50 L438.52,252.00 L438.25,251.65 L437.99,251.25 L437.71,250.75 L437.49,250.25 L437.25,249.50 L437.13,249.00 L437.02,248.25 L436.98,247.75 L436.97,247.00 L437.00,246.29 L437.04,245.75 L437.13,245.00 L437.25,244.28 L437.35,243.75 L437.50,243.06 L437.64,242.50 L437.78,242.00 L438.00,241.30 L438.20,240.75 L438.41,240.25 L438.64,239.75 L438.90,239.25 L439.19,238.75 L439.50,238.28 L439.75,237.93 L440.09,237.50 L440.50,237.04 L440.78,236.75 L441.25,236.30 L441.60,236.00 L442.00,235.69 L442.50,235.33 L443.00,235.01 L443.44,234.75 L443.92,234.50 L444.44,234.25 L445.00,234.01 L445.50,233.82 L446.00,233.65 L446.51,233.50 L447.25,233.31 L447.75,233.20 L448.50,233.07 L449.04,233.00 L449.75,232.93 L450.50,232.88 L451.25,232.86 L452.00,232.86 L452.75,232.89 L453.50,232.95 L454.00,233.00 L454.75,233.10 L455.50,233.23 L456.00,233.33 L456.72,233.50 L457.25,233.64 L457.75,233.79 L458.34,234.00 L458.98,234.25 L459.50,234.48 L460.00,234.74 L460.47,235.00 L460.87,235.25 L461.25,235.51 L461.75,235.90 L462.14,236.25 L462.50,236.61 L462.84,237.00 L463.21,237.50 L463.50,237.98 L463.75,238.48 L463.96,239.00 L464.10,239.50 L464.24,240.25 L464.28,240.75 L464.27,241.50 L464.21,242.00 L464.06,242.75 L463.91,243.25 L463.73,243.75 L463.50,244.29 L463.25,244.79 L463.00,245.25 L462.69,245.75 L462.35,246.25 L462.00,246.72 L461.75,247.04 L461.37,247.50 L461.00,247.91 L460.68,248.25 L460.25,248.67 L459.90,249.00 L459.50,249.35 L459.01,249.75 L458.68,250.00 L458.25,250.31 L457.75,250.64 L457.25,250.95 L456.75,251.23 L456.25,251.49 L455.75,251.74 L455.25,251.96 L454.75,252.16 L454.25,252.35 L453.75,252.53 L453.07,252.75 L452.50,252.92 L452.00,253.06 L451.31,253.25 L450.75,253.40 L450.25,253.52 L449.50,253.70 L449.00,253.81 L448.25,253.98 L447.75,254.08 L447.00,254.21 Z" fill="#d9677e" fill-opacity="0.24" stroke="#a02040" stroke-width="0.45" stroke-opacity="0.7"/>
<path d="M446.50,253.28 L445.75,253.38 L445.00,253.44 L444.25,253.45 L443.50,253.40 L442.75,253.28 L442.25,253.15 L441.75,252.99 L441.20,252.75 L440.75,252.50 L440.25,252.16 L439.79,251.75 L439.50,251.45 L439.15,251.00 L438.85,250.50 L438.61,250.00 L438.43,249.50 L438.25,248.80 L438.17,248.25 L438.12,247.50 L438.13,246.75 L438.19,246.00 L438.25,245.49 L438.37,244.75 L438.50,244.11 L438.64,243.50 L438.77,243.00 L438.99,242.25 L439.16,241.75 L439.34,241.25 L439.55,240.75 L439.79,240.25 L440.05,239.75 L440.35,239.25 L440.68,238.75 L441.00,238.33 L441.27,238.00 L441.74,237.50 L442.00,237.24 L442.50,236.80 L442.88,236.50 L443.25,236.23 L443.75,235.90 L444.25,235.61 L444.75,235.35 L445.25,235.12 L445.75,234.91 L446.25,234.72 L446.96,234.50 L447.50,234.35 L448.00,234.24 L448.75,234.10 L449.42,234.00 L450.00,233.94 L450.75,233.88 L451.50,233.86 L452.25,233.86 L453.00,233.89 L453.75,233.94 L454.26,234.00 L455.00,234.10 L455.75,234.24 L456.25,234.35 L456.85,234.50 L457.50,234.70 L458.00,234.87 L458.50,235.07 L459.00,235.29 L459.50,235.55 L460.00,235.84 L460.50,236.17 L460.92,236.50 L461.25,236.79 L461.70,237.25 L462.00,237.61 L462.28,238.00 L462.57,238.50 L462.80,239.00 L463.00,239.63 L463.13,240.25 L463.18,241.00 L463.13,241.75 L463.00,242.44 L462.84,243.00 L462.66,243.50 L462.44,244.00 L462.18,244.50 L461.88,245.00 L461.55,245.50 L461.25,245.92 L460.99,246.25 L460.57,246.75 L460.25,247.11 L459.87,247.50 L459.50,247.86 L459.07,248.25 L458.75,248.53 L458.25,248.93 L457.82,249.25 L457.46,249.50 L457.00,249.80 L456.50,250.10 L456.00,250.38 L455.50,250.63 L455.00,250.87 L454.50,251.08 L454.00,251.28 L453.41,251.50 L452.75,251.73 L452.25,251.88 L451.75,252.03 L451.00,252.25 L450.50,252.38 L450.00,252.51 L449.25,252.71 L448.75,252.83 L448.00,253.00 L447.50,253.10 L446.75,253.24 Z" fill="#d65a72" fill-opacity="0.24" stroke="#a02040" stroke-width="0.45" stroke-opacity="0.7"/>
<path d="M445.50,252.25 L444.75,252.29 L444.00,252.26 L443.50,252.20 L442.75,252.03 L442.25,251.85 L441.75,251.61 L441.25,251.29 L440.90,251.00 L440.50,250.58 L440.25,250.25 L439.96,249.75 L439.75,249.25 L439.55,248.50 L439.47,248.00 L439.43,247.25 L439.46,246.50 L439.51,246.00 L439.63,245.25 L439.75,244.63 L439.90,244.00 L440.03,243.50 L440.25,242.76 L440.42,242.25 L440.61,241.75 L440.83,241.25 L441.07,240.75 L441.34,240.25 L441.64,239.75 L441.99,239.25 L442.25,238.92 L442.62,238.50 L443.00,238.11 L443.40,237.75 L443.75,237.46 L444.25,237.09 L444.75,236.77 L445.23,236.50 L445.72,236.25 L446.25,236.01 L446.75,235.82 L447.25,235.65 L447.75,235.50 L448.50,235.31 L449.00,235.21 L449.75,235.09 L450.50,235.01 L451.00,234.97 L451.75,234.93 L452.50,234.93 L453.25,234.96 L453.78,235.00 L454.50,235.08 L455.25,235.19 L455.75,235.29 L456.50,235.47 L457.00,235.62 L457.50,235.79 L458.03,236.00 L458.56,236.25 L459.02,236.50 L459.50,236.81 L460.00,237.18 L460.36,237.50 L460.75,237.92 L461.01,238.25 L461.33,238.75 L461.58,239.25 L461.75,239.75 L461.90,240.50 L461.93,241.25 L461.84,242.00 L461.72,242.50 L461.50,243.14 L461.25,243.70 L461.00,244.16 L460.75,244.57 L460.46,245.00 L460.08,245.50 L459.75,245.89 L459.43,246.25 L459.00,246.69 L458.67,247.00 L458.25,247.38 L457.81,247.75 L457.48,248.00 L457.00,248.35 L456.50,248.69 L456.00,249.00 L455.55,249.25 L455.08,249.50 L454.56,249.75 L454.00,250.00 L453.50,250.20 L453.00,250.39 L452.50,250.57 L451.94,250.75 L451.25,250.96 L450.75,251.11 L450.24,251.25 L449.50,251.45 L449.00,251.58 L448.32,251.75 L447.75,251.88 L447.19,252.00 L446.50,252.12 L445.75,252.23 Z" fill="#d24d67" fill-opacity="0.24" stroke="#a02040" stroke-width="0.45" stroke-opacity="0.7"/>
<path d="M447.00,250.78 L446.25,250.90 L445.50,250.97 L444.75,250.97 L444.00,250.89 L443.40,250.75 L442.78,250.50 L442.37,250.25 L442.00,249.95 L441.60,249.50 L441.30,249.00 L441.10,248.50 L440.98,248.00 L440.89,247.25 L440.90,246.50 L440.98,245.75 L441.06,245.25 L441.21,244.50 L441.34,244.00 L441.50,243.44 L441.73,242.75 L441.91,242.25 L442.13,241.75 L442.37,241.25 L442.65,240.75 L442.96,240.25 L443.25,239.85 L443.54,239.50 L444.00,239.00 L444.26,238.75 L444.75,238.33 L445.20,238.00 L445.58,237.75 L446.01,237.50 L446.50,237.25 L447.05,237.00 L447.71,236.75 L448.25,236.58 L448.75,236.44 L449.50,236.28 L450.00,236.19 L450.75,236.09 L451.50,236.03 L452.25,236.00 L453.00,236.01 L453.75,236.05 L454.50,236.14 L455.21,236.25 L455.75,236.36 L456.26,236.50 L457.00,236.74 L457.50,236.95 L458.00,237.20 L458.50,237.50 L458.86,237.75 L459.25,238.08 L459.65,238.50 L460.00,238.97 L460.25,239.42 L460.47,240.00 L460.59,240.50 L460.63,241.25 L460.53,242.00 L460.40,242.50 L460.21,243.00 L459.97,243.50 L459.68,244.00 L459.34,244.50 L459.00,244.93 L458.73,245.25 L458.26,245.75 L458.00,246.00 L457.50,246.45 L457.14,246.75 L456.75,247.06 L456.25,247.41 L455.75,247.74 L455.32,248.00 L454.88,248.25 L454.39,248.50 L453.86,248.75 L453.28,249.00 L452.75,249.21 L452.25,249.39 L451.75,249.55 L451.13,249.75 L450.50,249.93 L450.00,250.07 L449.33,250.25 L448.75,250.40 L448.25,250.52 L447.50,250.68 L447.00,250.78 Z" fill="#ce415c" fill-opacity="0.24" stroke="#a02040" stroke-width="0.45" stroke-opacity="0.7"/>
<path d="M447.25,249.27 L446.50,249.35 L445.75,249.38 L445.00,249.31 L444.50,249.19 L444.00,248.98 L443.50,248.63 L443.17,248.25 L442.89,247.75 L442.74,247.25 L442.64,246.50 L442.66,245.75 L442.75,245.00 L442.84,244.50 L443.00,243.84 L443.17,243.25 L443.35,242.75 L443.55,242.25 L443.79,241.75 L444.07,241.25 L444.40,240.75 L444.75,240.30 L445.02,240.00 L445.50,239.53 L445.82,239.25 L446.25,238.93 L446.75,238.61 L447.25,238.33 L447.75,238.10 L448.25,237.90 L448.75,237.72 L449.50,237.51 L450.00,237.40 L450.75,237.27 L451.25,237.21 L452.00,237.15 L452.75,237.14 L453.50,237.17 L454.25,237.24 L454.75,237.32 L455.50,237.48 L456.00,237.63 L456.50,237.82 L457.00,238.05 L457.50,238.35 L458.00,238.73 L458.28,239.00 L458.68,239.50 L458.94,240.00 L459.10,240.50 L459.18,241.25 L459.09,242.00 L458.94,242.50 L458.72,243.00 L458.44,243.50 L458.10,244.00 L457.75,244.44 L457.47,244.75 L457.00,245.21 L456.68,245.50 L456.25,245.86 L455.75,246.23 L455.36,246.50 L454.96,246.75 L454.50,247.02 L454.00,247.28 L453.50,247.52 L452.98,247.75 L452.34,248.00 L451.75,248.21 L451.25,248.37 L450.75,248.51 L450.00,248.71 L449.50,248.84 L448.77,249.00 L448.25,249.10 L447.50,249.24 Z" fill="#cb3451" fill-opacity="0.24" stroke="#a02040" stroke-width="0.45" stroke-opacity="0.7"/>
<path d="M447.75,247.51 L447.25,247.50 L446.50,247.39 L446.00,247.23 L445.50,246.93 L445.11,246.50 L444.87,246.00 L444.75,245.44 L444.72,244.75 L444.76,244.25 L444.91,243.50 L445.06,243.00 L445.25,242.50 L445.50,241.99 L445.80,241.50 L446.17,241.00 L446.50,240.64 L446.92,240.25 L447.25,239.99 L447.75,239.65 L448.25,239.36 L448.75,239.13 L449.25,238.93 L449.81,238.75 L450.50,238.58 L451.00,238.49 L451.75,238.39 L452.50,238.35 L453.25,238.37 L454.00,238.45 L454.50,238.54 L455.25,238.74 L455.75,238.95 L456.25,239.22 L456.63,239.50 L457.00,239.88 L457.26,240.25 L457.50,240.92 L457.54,241.50 L457.47,242.00 L457.25,242.63 L457.00,243.09 L456.72,243.50 L456.31,244.00 L456.00,244.31 L455.51,244.75 L455.20,245.00 L454.75,245.32 L454.25,245.64 L453.75,245.92 L453.25,246.18 L452.75,246.40 L452.25,246.60 L451.75,246.78 L451.01,247.00 L450.50,247.13 L449.95,247.25 L449.25,247.37 L448.50,247.46 L447.94,247.50 Z" fill="#c72847" fill-opacity="0.24" stroke="#a02040" stroke-width="0.45" stroke-opacity="0.7"/>
<path d="M449.75,245.77 L449.00,245.77 L448.50,245.70 L447.86,245.50 L447.46,245.25 L447.04,244.75 L446.87,244.25 L446.84,243.50 L447.00,242.81 L447.25,242.25 L447.50,241.85 L447.77,241.50 L448.25,241.03 L448.62,240.75 L449.00,240.50 L449.50,240.24 L450.08,240.00 L450.75,239.80 L451.25,239.70 L452.00,239.60 L452.75,239.59 L453.50,239.67 L454.00,239.77 L454.61,240.00 L455.03,240.25 L455.50,240.72 L455.74,241.25 L455.78,241.75 L455.68,242.25 L455.45,242.75 L455.10,243.25 L454.75,243.62 L454.33,244.00 L454.00,244.25 L453.50,244.58 L453.00,244.85 L452.50,245.09 L452.00,245.28 L451.31,245.50 L450.75,245.63 L450.00,245.75 Z" fill="#c41c3c" fill-opacity="0.24" stroke="#a02040" stroke-width="0.45" stroke-opacity="0.7"/>
<ellipse cx="447.3" cy="241.4" rx="3.0" ry="1.8" fill="#fff" fill-opacity="0.4"/>
<rect x="410.8" y="205.9" width="99.30" height="98.30" fill="none" stroke="#333" stroke-width="1.0"/>
<line x1="408.20" y1="215.40" x2="410.80" y2="215.40" stroke="#222" stroke-width="1.17"/>
<text x="393.50" y="217.70" font-size="7.2" fill="#222" stroke="#222" stroke-width="0.16">10<tspan font-size="5.18" dy="-2.30">5</tspan></text>
<line x1="408.20" y1="237.80" x2="410.80" y2="237.80" stroke="#222" stroke-width="1.17"/>
<text x="393.50" y="240.10" font-size="7.2" fill="#222" stroke="#222" stroke-width="0.16">10<tspan font-size="5.18" dy="-2.30">4</tspan></text>
<line x1="408.20" y1="264.60" x2="410.80" y2="264.60" stroke="#222" stroke-width="1.17"/>
<text x="393.50" y="266.90" font-size="7.2" fill="#222" stroke="#222" stroke-width="0.16">10<tspan font-size="5.18" dy="-2.30">3</tspan></text>
<line x1="408.20" y1="282.50" x2="410.80" y2="282.50" stroke="#222" stroke-width="1.17"/>
<text x="404.70" y="284.80" font-size="7.2" fill="#222" stroke="#222" stroke-width="0.26" text-anchor="end">0</text>
<line x1="408.20" y1="299.70" x2="410.80" y2="299.70" stroke="#222" stroke-width="1.17"/>
<text x="388.60" y="302.20" font-size="7.2" fill="#222" stroke="#222" stroke-width="0.16">−10<tspan font-size="5.18" dy="-2.30">3</tspan></text>
<line x1="409.50" y1="256.53" x2="410.80" y2="256.53" stroke="#444" stroke-width="0.65"/>
<line x1="409.50" y1="251.81" x2="410.80" y2="251.81" stroke="#444" stroke-width="0.65"/>
<line x1="409.50" y1="248.46" x2="410.80" y2="248.46" stroke="#444" stroke-width="0.65"/>
<line x1="409.50" y1="245.87" x2="410.80" y2="245.87" stroke="#444" stroke-width="0.65"/>
<line x1="409.50" y1="243.75" x2="410.80" y2="243.75" stroke="#444" stroke-width="0.65"/>
<line x1="409.50" y1="241.95" x2="410.80" y2="241.95" stroke="#444" stroke-width="0.65"/>
<line x1="409.50" y1="240.40" x2="410.80" y2="240.40" stroke="#444" stroke-width="0.65"/>
<line x1="409.50" y1="239.03" x2="410.80" y2="239.03" stroke="#444" stroke-width="0.65"/>
<line x1="409.50" y1="231.06" x2="410.80" y2="231.06" stroke="#444" stroke-width="0.65"/>
<line x1="409.50" y1="227.11" x2="410.80" y2="227.11" stroke="#444" stroke-width="0.65"/>
<line x1="409.50" y1="224.31" x2="410.80" y2="224.31" stroke="#444" stroke-width="0.65"/>
<line x1="409.50" y1="222.14" x2="410.80" y2="222.14" stroke="#444" stroke-width="0.65"/>
<line x1="409.50" y1="220.37" x2="410.80" y2="220.37" stroke="#444" stroke-width="0.65"/>
<line x1="409.50" y1="218.87" x2="410.80" y2="218.87" stroke="#444" stroke-width="0.65"/>
<line x1="409.50" y1="217.57" x2="410.80" y2="217.57" stroke="#444" stroke-width="0.65"/>
<line x1="409.50" y1="216.42" x2="410.80" y2="216.42" stroke="#444" stroke-width="0.65"/>
<line x1="409.50" y1="268.00" x2="410.80" y2="268.00" stroke="#444" stroke-width="0.65"/>
<line x1="409.50" y1="271.50" x2="410.80" y2="271.50" stroke="#444" stroke-width="0.65"/>
<line x1="409.50" y1="275.00" x2="410.80" y2="275.00" stroke="#444" stroke-width="0.65"/>
<line x1="409.50" y1="278.50" x2="410.80" y2="278.50" stroke="#444" stroke-width="0.65"/>
<line x1="409.50" y1="286.00" x2="410.80" y2="286.00" stroke="#444" stroke-width="0.65"/>
<line x1="409.50" y1="289.50" x2="410.80" y2="289.50" stroke="#444" stroke-width="0.65"/>
<line x1="409.50" y1="293.00" x2="410.80" y2="293.00" stroke="#444" stroke-width="0.65"/>
<line x1="409.50" y1="296.50" x2="410.80" y2="296.50" stroke="#444" stroke-width="0.65"/>
<rect x="409.2" y="280.6" width="1.6" height="3.8" fill="#111"/>
<line x1="415.60" y1="304.20" x2="415.60" y2="306.80" stroke="#222" stroke-width="1.17"/>
<line x1="432.70" y1="304.20" x2="432.70" y2="306.80" stroke="#222" stroke-width="1.17"/>
<line x1="450.00" y1="304.20" x2="450.00" y2="306.80" stroke="#222" stroke-width="1.17"/>
<line x1="477.30" y1="304.20" x2="477.30" y2="306.80" stroke="#222" stroke-width="1.17"/>
<line x1="500.40" y1="304.20" x2="500.40" y2="306.80" stroke="#222" stroke-width="1.17"/>
<line x1="458.22" y1="304.20" x2="458.22" y2="305.50" stroke="#444" stroke-width="0.65"/>
<line x1="463.03" y1="304.20" x2="463.03" y2="305.50" stroke="#444" stroke-width="0.65"/>
<line x1="466.44" y1="304.20" x2="466.44" y2="305.50" stroke="#444" stroke-width="0.65"/>
<line x1="469.08" y1="304.20" x2="469.08" y2="305.50" stroke="#444" stroke-width="0.65"/>
<line x1="471.24" y1="304.20" x2="471.24" y2="305.50" stroke="#444" stroke-width="0.65"/>
<line x1="473.07" y1="304.20" x2="473.07" y2="305.50" stroke="#444" stroke-width="0.65"/>
<line x1="474.65" y1="304.20" x2="474.65" y2="305.50" stroke="#444" stroke-width="0.65"/>
<line x1="476.05" y1="304.20" x2="476.05" y2="305.50" stroke="#444" stroke-width="0.65"/>
<line x1="484.25" y1="304.20" x2="484.25" y2="305.50" stroke="#444" stroke-width="0.65"/>
<line x1="488.32" y1="304.20" x2="488.32" y2="305.50" stroke="#444" stroke-width="0.65"/>
<line x1="491.21" y1="304.20" x2="491.21" y2="305.50" stroke="#444" stroke-width="0.65"/>
<line x1="493.45" y1="304.20" x2="493.45" y2="305.50" stroke="#444" stroke-width="0.65"/>
<line x1="495.28" y1="304.20" x2="495.28" y2="305.50" stroke="#444" stroke-width="0.65"/>
<line x1="496.82" y1="304.20" x2="496.82" y2="305.50" stroke="#444" stroke-width="0.65"/>
<line x1="498.16" y1="304.20" x2="498.16" y2="305.50" stroke="#444" stroke-width="0.65"/>
<line x1="499.34" y1="304.20" x2="499.34" y2="305.50" stroke="#444" stroke-width="0.65"/>
<line x1="419.00" y1="304.20" x2="419.00" y2="305.50" stroke="#444" stroke-width="0.65"/>
<line x1="422.50" y1="304.20" x2="422.50" y2="305.50" stroke="#444" stroke-width="0.65"/>
<line x1="426.00" y1="304.20" x2="426.00" y2="305.50" stroke="#444" stroke-width="0.65"/>
<line x1="429.50" y1="304.20" x2="429.50" y2="305.50" stroke="#444" stroke-width="0.65"/>
<line x1="436.00" y1="304.20" x2="436.00" y2="305.50" stroke="#444" stroke-width="0.65"/>
<line x1="439.50" y1="304.20" x2="439.50" y2="305.50" stroke="#444" stroke-width="0.65"/>
<line x1="443.00" y1="304.20" x2="443.00" y2="305.50" stroke="#444" stroke-width="0.65"/>
<line x1="446.50" y1="304.20" x2="446.50" y2="305.50" stroke="#444" stroke-width="0.65"/>
<rect x="430.6" y="304.2" width="4.2" height="1.6" fill="#111"/>
<text x="407.90" y="318.70" font-size="7.2" fill="#222" stroke="#222" stroke-width="0.16">−10<tspan font-size="5.18" dy="-2.30">3</tspan></text>
<text x="432.50" y="318.70" font-size="7.2" fill="#222" stroke="#222" stroke-width="0.26" text-anchor="middle">0</text>
<text x="444.80" y="318.70" font-size="7.2" fill="#222" stroke="#222" stroke-width="0.16">10<tspan font-size="5.18" dy="-2.30">3</tspan></text>
<text x="472.10" y="318.70" font-size="7.2" fill="#222" stroke="#222" stroke-width="0.16">10<tspan font-size="5.18" dy="-2.30">4</tspan></text>
<text x="494.60" y="318.70" font-size="7.2" fill="#222" stroke="#222" stroke-width="0.16">10<tspan font-size="5.18" dy="-2.30">5</tspan></text>
<text x="442.20" y="331.30" font-size="8.8" fill="#222" stroke="#222" stroke-width="0.35" textLength="36.30" lengthAdjust="spacingAndGlyphs">BCMA-AF647</text>
<text x="383.70" y="256.40" font-size="8.6" fill="#222" stroke="#222" stroke-width="0.35" text-anchor="middle" textLength="29.10" lengthAdjust="spacingAndGlyphs" transform="rotate(-90 383.70 256.40)">HLA B7-PE</text>
<text x="415.0" y="215.0" font-size="7.8" fill="#b82b4b" stroke="#b82b4b" stroke-width="0.15" textLength="64.3" lengthAdjust="spacingAndGlyphs">BCMA CAR <tspan font-size="6.6">treated</tspan></text>
<text x="450.3" y="301.4" font-size="7.9" fill="#41679b" stroke="#41679b" stroke-width="0.15" textLength="58.4" lengthAdjust="spacingAndGlyphs">CMV TCR <tspan font-size="6.6">treated</tspan></text>
<rect x="188.50" y="437.80" width="8.60" height="59.00" fill="#8290bd"/>
<rect x="205.00" y="447.24" width="8.60" height="49.56" fill="#a8cef0"/>
<rect x="221.50" y="462.58" width="8.60" height="34.22" fill="#e08278"/>
<rect x="237.80" y="461.40" width="8.60" height="35.40" fill="#f9c383"/>
<line x1="180.00" y1="437.70" x2="251.50" y2="437.70" stroke="#222" stroke-width="1.30" stroke-dasharray="1.0 1.4"/>
<line x1="192.80" y1="436.03" x2="192.80" y2="439.57" stroke="#2e5a9a" stroke-width="1.04"/>
<line x1="191.00" y1="436.03" x2="194.60" y2="436.03" stroke="#2e5a9a" stroke-width="1.04"/>
<line x1="191.00" y1="439.57" x2="194.60" y2="439.57" stroke="#2e5a9a" stroke-width="1.04"/>
<circle cx="190.80" cy="434.85" r="1.90" fill="#fff" stroke="#2e5a9a" stroke-width="0.9"/>
<rect x="190.23" y="434.13" width="3.80" height="3.80" fill="#fff" stroke="#2e5a9a" stroke-width="0.9"/>
<path d="M191.19,438.92 L195.75,438.92 L193.47,434.93 Z" fill="#fff" stroke="#2e5a9a" stroke-width="0.9" stroke-linejoin="round"/>
<path d="M192.52,436.09 L197.08,436.09 L194.80,440.08 Z" fill="#fff" stroke="#2e5a9a" stroke-width="0.9" stroke-linejoin="round"/>
<path d="M191.47,436.01 L193.84,438.39 L191.47,440.76 L189.09,438.39 Z" fill="#fff" stroke="#2e5a9a" stroke-width="0.9" stroke-linejoin="round"/>
<circle cx="192.80" cy="438.98" r="1.90" fill="#fff" stroke="#2e5a9a" stroke-width="0.9"/>
<rect x="192.23" y="437.67" width="3.80" height="3.80" fill="#fff" stroke="#2e5a9a" stroke-width="0.9"/>
<path d="M188.52,441.87 L193.08,441.87 L190.80,437.88 Z" fill="#fff" stroke="#2e5a9a" stroke-width="0.9" stroke-linejoin="round"/>
<line x1="209.30" y1="440.16" x2="209.30" y2="454.32" stroke="#4aa9e2" stroke-width="1.04"/>
<line x1="207.50" y1="440.16" x2="211.10" y2="440.16" stroke="#4aa9e2" stroke-width="1.04"/>
<line x1="207.50" y1="454.32" x2="211.10" y2="454.32" stroke="#4aa9e2" stroke-width="1.04"/>
<circle cx="207.30" cy="439.57" r="1.90" fill="#fff" stroke="#4aa9e2" stroke-width="0.9"/>
<rect x="206.73" y="440.03" width="3.80" height="3.80" fill="#fff" stroke="#4aa9e2" stroke-width="0.9"/>
<path d="M207.69,445.41 L212.25,445.41 L209.97,441.42 Z" fill="#fff" stroke="#4aa9e2" stroke-width="0.9" stroke-linejoin="round"/>
<path d="M209.02,444.35 L213.58,444.35 L211.30,448.34 Z" fill="#fff" stroke="#4aa9e2" stroke-width="0.9" stroke-linejoin="round"/>
<path d="M207.97,446.05 L210.34,448.42 L207.97,450.80 L205.59,448.42 Z" fill="#fff" stroke="#4aa9e2" stroke-width="0.9" stroke-linejoin="round"/>
<circle cx="209.30" cy="449.60" r="1.90" fill="#fff" stroke="#4aa9e2" stroke-width="0.9"/>
<rect x="208.73" y="450.65" width="3.80" height="3.80" fill="#fff" stroke="#4aa9e2" stroke-width="0.9"/>
<path d="M205.02,457.21 L209.58,457.21 L207.30,453.22 Z" fill="#fff" stroke="#4aa9e2" stroke-width="0.9" stroke-linejoin="round"/>
<circle cx="208.63" cy="461.40" r="1.90" fill="#fff" stroke="#4aa9e2" stroke-width="0.9"/>
<rect x="208.07" y="465.40" width="3.80" height="3.80" fill="#fff" stroke="#4aa9e2" stroke-width="0.9"/>
<line x1="225.80" y1="456.68" x2="225.80" y2="468.48" stroke="#d02843" stroke-width="1.04"/>
<line x1="224.00" y1="456.68" x2="227.60" y2="456.68" stroke="#d02843" stroke-width="1.04"/>
<line x1="224.00" y1="468.48" x2="227.60" y2="468.48" stroke="#d02843" stroke-width="1.04"/>
<circle cx="223.80" cy="455.50" r="1.90" fill="#fff" stroke="#d02843" stroke-width="0.9"/>
<rect x="223.23" y="454.78" width="3.80" height="3.80" fill="#fff" stroke="#d02843" stroke-width="0.9"/>
<path d="M224.19,459.57 L228.75,459.57 L226.47,455.58 Z" fill="#fff" stroke="#d02843" stroke-width="0.9" stroke-linejoin="round"/>
<path d="M225.52,456.74 L230.08,456.74 L227.80,460.73 Z" fill="#fff" stroke="#d02843" stroke-width="0.9" stroke-linejoin="round"/>
<path d="M224.47,459.03 L226.84,461.40 L224.47,463.78 L222.09,461.40 Z" fill="#fff" stroke="#d02843" stroke-width="0.9" stroke-linejoin="round"/>
<circle cx="225.80" cy="464.35" r="1.90" fill="#fff" stroke="#d02843" stroke-width="0.9"/>
<rect x="225.23" y="465.40" width="3.80" height="3.80" fill="#fff" stroke="#d02843" stroke-width="0.9"/>
<path d="M221.52,471.96 L226.08,471.96 L223.80,467.97 Z" fill="#fff" stroke="#d02843" stroke-width="0.9" stroke-linejoin="round"/>
<circle cx="225.13" cy="473.20" r="1.90" fill="#fff" stroke="#d02843" stroke-width="0.9"/>
<line x1="242.10" y1="454.32" x2="242.10" y2="468.48" stroke="#f2a23a" stroke-width="1.04"/>
<line x1="240.30" y1="454.32" x2="243.90" y2="454.32" stroke="#f2a23a" stroke-width="1.04"/>
<line x1="240.30" y1="468.48" x2="243.90" y2="468.48" stroke="#f2a23a" stroke-width="1.04"/>
<circle cx="240.10" cy="450.78" r="1.90" fill="#fff" stroke="#f2a23a" stroke-width="0.9"/>
<rect x="239.53" y="450.65" width="3.80" height="3.80" fill="#fff" stroke="#f2a23a" stroke-width="0.9"/>
<path d="M240.49,456.03 L245.05,456.03 L242.77,452.04 Z" fill="#fff" stroke="#f2a23a" stroke-width="0.9" stroke-linejoin="round"/>
<path d="M241.82,453.79 L246.38,453.79 L244.10,457.78 Z" fill="#fff" stroke="#f2a23a" stroke-width="0.9" stroke-linejoin="round"/>
<path d="M240.77,456.07 L243.14,458.45 L240.77,460.82 L238.39,458.45 Z" fill="#fff" stroke="#f2a23a" stroke-width="0.9" stroke-linejoin="round"/>
<circle cx="242.10" cy="461.40" r="1.90" fill="#fff" stroke="#f2a23a" stroke-width="0.9"/>
<rect x="241.53" y="465.40" width="3.80" height="3.80" fill="#fff" stroke="#f2a23a" stroke-width="0.9"/>
<path d="M237.82,471.96 L242.38,471.96 L240.10,467.97 Z" fill="#fff" stroke="#f2a23a" stroke-width="0.9" stroke-linejoin="round"/>
<circle cx="241.43" cy="476.15" r="1.90" fill="#fff" stroke="#f2a23a" stroke-width="0.9"/>
<line x1="180.00" y1="405.60" x2="180.00" y2="496.80" stroke="#222" stroke-width="1.30"/>
<line x1="179.50" y1="496.80" x2="252.00" y2="496.80" stroke="#222" stroke-width="1.30"/>
<line x1="177.40" y1="496.80" x2="180.00" y2="496.80" stroke="#222" stroke-width="1.17"/>
<text x="175.60" y="499.40" font-size="7.6" fill="#333" stroke="#333" stroke-width="0.26" text-anchor="end">0.0</text>
<line x1="177.40" y1="467.30" x2="180.00" y2="467.30" stroke="#222" stroke-width="1.17"/>
<text x="175.60" y="469.90" font-size="7.6" fill="#333" stroke="#333" stroke-width="0.26" text-anchor="end">0.5</text>
<line x1="177.40" y1="437.70" x2="180.00" y2="437.70" stroke="#222" stroke-width="1.17"/>
<text x="175.60" y="440.30" font-size="7.6" fill="#333" stroke="#333" stroke-width="0.26" text-anchor="end">1.0</text>
<line x1="177.40" y1="408.10" x2="180.00" y2="408.10" stroke="#222" stroke-width="1.17"/>
<text x="175.60" y="410.70" font-size="7.6" fill="#333" stroke="#333" stroke-width="0.26" text-anchor="end">1.5</text>
<line x1="192.80" y1="496.80" x2="192.80" y2="499.10" stroke="#222" stroke-width="1.17"/>
<text x="195.40" y="506.60" font-size="7.7" fill="#222" stroke="#222" stroke-width="0.26" text-anchor="end" textLength="31.30" lengthAdjust="spacingAndGlyphs" transform="rotate(-45 195.40 506.60)">CMV TCR</text>
<line x1="209.30" y1="496.80" x2="209.30" y2="499.10" stroke="#222" stroke-width="1.17"/>
<text x="211.90" y="506.60" font-size="7.7" fill="#222" stroke="#222" stroke-width="0.26" text-anchor="end" textLength="35.40" lengthAdjust="spacingAndGlyphs" transform="rotate(-45 211.90 506.60)">BOB1 TCR</text>
<line x1="225.80" y1="496.80" x2="225.80" y2="499.10" stroke="#222" stroke-width="1.17"/>
<text x="228.40" y="506.60" font-size="7.7" fill="#222" stroke="#222" stroke-width="0.26" text-anchor="end" textLength="39.50" lengthAdjust="spacingAndGlyphs" transform="rotate(-45 228.40 506.60)">BCMA CAR</text>
<line x1="242.10" y1="496.80" x2="242.10" y2="499.10" stroke="#222" stroke-width="1.17"/>
<text x="244.70" y="506.60" font-size="7.7" fill="#222" stroke="#222" stroke-width="0.26" text-anchor="end" textLength="48.60" lengthAdjust="spacingAndGlyphs" transform="rotate(-45 244.70 506.60)">TCR : CAR Mix</text>
<line x1="192.30" y1="420.00" x2="210.00" y2="420.00" stroke="#808080" stroke-width="1.30"/>
<text x="200.95" y="417.30" font-size="5.8" fill="#444" stroke="#444" stroke-width="0.26" text-anchor="middle" textLength="17.30" lengthAdjust="spacingAndGlyphs">0.0046</text>
<line x1="192.30" y1="407.30" x2="224.00" y2="407.30" stroke="#808080" stroke-width="1.30"/>
<text x="208.75" y="404.60" font-size="5.8" fill="#444" stroke="#444" stroke-width="0.26" text-anchor="middle" textLength="20.10" lengthAdjust="spacingAndGlyphs">&lt;0.0001</text>
<line x1="192.90" y1="393.70" x2="242.50" y2="393.70" stroke="#808080" stroke-width="1.30"/>
<text x="216.90" y="391.20" font-size="5.8" fill="#444" stroke="#444" stroke-width="0.26" text-anchor="middle" textLength="21.20" lengthAdjust="spacingAndGlyphs">&lt;0.0001</text>
<text x="155.90" y="450.70" font-size="8.2" fill="#222" stroke="#222" stroke-width="0.25" text-anchor="middle" textLength="88.50" lengthAdjust="spacingAndGlyphs" transform="rotate(-90 155.90 450.70)"><tspan stroke-width="0.45">BCMA-AF647</tspan> (normalized MFI)</text>
<rect x="303.60" y="453.63" width="9.00" height="42.87" fill="#8290bd"/>
<rect x="320.40" y="442.58" width="9.00" height="53.92" fill="#a8cef0"/>
<rect x="336.70" y="441.25" width="9.00" height="55.25" fill="#e08278"/>
<rect x="353.10" y="439.04" width="9.00" height="57.46" fill="#f9c383"/>
<line x1="295.50" y1="452.30" x2="367.00" y2="452.30" stroke="#222" stroke-width="1.30" stroke-dasharray="1.0 1.4"/>
<line x1="308.10" y1="450.97" x2="308.10" y2="456.28" stroke="#2e5a9a" stroke-width="1.04"/>
<line x1="306.30" y1="450.97" x2="309.90" y2="450.97" stroke="#2e5a9a" stroke-width="1.04"/>
<line x1="306.30" y1="456.28" x2="309.90" y2="456.28" stroke="#2e5a9a" stroke-width="1.04"/>
<circle cx="306.10" cy="450.09" r="1.90" fill="#fff" stroke="#2e5a9a" stroke-width="0.9"/>
<rect x="305.53" y="449.07" width="3.80" height="3.80" fill="#fff" stroke="#2e5a9a" stroke-width="0.9"/>
<path d="M306.49,454.01 L311.05,454.01 L308.77,450.02 Z" fill="#fff" stroke="#2e5a9a" stroke-width="0.9" stroke-linejoin="round"/>
<path d="M307.82,451.92 L312.38,451.92 L310.10,455.91 Z" fill="#fff" stroke="#2e5a9a" stroke-width="0.9" stroke-linejoin="round"/>
<path d="M306.77,452.13 L309.14,454.51 L306.77,456.88 L304.39,454.51 Z" fill="#fff" stroke="#2e5a9a" stroke-width="0.9" stroke-linejoin="round"/>
<circle cx="308.10" cy="455.84" r="1.90" fill="#fff" stroke="#2e5a9a" stroke-width="0.9"/>
<rect x="307.53" y="454.82" width="3.80" height="3.80" fill="#fff" stroke="#2e5a9a" stroke-width="0.9"/>
<path d="M303.82,459.31 L308.38,459.31 L306.10,455.32 Z" fill="#fff" stroke="#2e5a9a" stroke-width="0.9" stroke-linejoin="round"/>
<line x1="324.90" y1="435.95" x2="324.90" y2="449.21" stroke="#4aa9e2" stroke-width="1.04"/>
<line x1="323.10" y1="435.95" x2="326.70" y2="435.95" stroke="#4aa9e2" stroke-width="1.04"/>
<line x1="323.10" y1="449.21" x2="326.70" y2="449.21" stroke="#4aa9e2" stroke-width="1.04"/>
<circle cx="322.90" cy="431.08" r="1.90" fill="#fff" stroke="#4aa9e2" stroke-width="0.9"/>
<rect x="322.33" y="431.84" width="3.80" height="3.80" fill="#fff" stroke="#4aa9e2" stroke-width="0.9"/>
<path d="M323.29,438.54 L327.85,438.54 L325.57,434.55 Z" fill="#fff" stroke="#4aa9e2" stroke-width="0.9" stroke-linejoin="round"/>
<path d="M324.62,439.54 L329.18,439.54 L326.90,443.53 Z" fill="#fff" stroke="#4aa9e2" stroke-width="0.9" stroke-linejoin="round"/>
<path d="M323.57,441.08 L325.94,443.46 L323.57,445.83 L321.19,443.46 Z" fill="#fff" stroke="#4aa9e2" stroke-width="0.9" stroke-linejoin="round"/>
<circle cx="324.90" cy="445.67" r="1.90" fill="#fff" stroke="#4aa9e2" stroke-width="0.9"/>
<rect x="324.33" y="445.98" width="3.80" height="3.80" fill="#fff" stroke="#4aa9e2" stroke-width="0.9"/>
<path d="M320.62,451.80 L325.18,451.80 L322.90,447.81 Z" fill="#fff" stroke="#4aa9e2" stroke-width="0.9" stroke-linejoin="round"/>
<circle cx="324.23" cy="452.30" r="1.90" fill="#fff" stroke="#4aa9e2" stroke-width="0.9"/>
<rect x="323.67" y="452.61" width="3.80" height="3.80" fill="#fff" stroke="#4aa9e2" stroke-width="0.9"/>
<line x1="341.20" y1="429.32" x2="341.20" y2="453.18" stroke="#d02843" stroke-width="1.04"/>
<line x1="339.40" y1="429.32" x2="343.00" y2="429.32" stroke="#d02843" stroke-width="1.04"/>
<line x1="339.40" y1="453.18" x2="343.00" y2="453.18" stroke="#d02843" stroke-width="1.04"/>
<circle cx="339.20" cy="416.06" r="1.90" fill="#fff" stroke="#d02843" stroke-width="0.9"/>
<rect x="338.63" y="421.67" width="3.80" height="3.80" fill="#fff" stroke="#d02843" stroke-width="0.9"/>
<path d="M339.59,438.54 L344.15,438.54 L341.87,434.55 Z" fill="#fff" stroke="#d02843" stroke-width="0.9" stroke-linejoin="round"/>
<path d="M340.92,437.33 L345.48,437.33 L343.20,441.32 Z" fill="#fff" stroke="#d02843" stroke-width="0.9" stroke-linejoin="round"/>
<path d="M339.87,438.87 L342.24,441.25 L339.87,443.62 L337.49,441.25 Z" fill="#fff" stroke="#d02843" stroke-width="0.9" stroke-linejoin="round"/>
<circle cx="341.20" cy="443.46" r="1.90" fill="#fff" stroke="#d02843" stroke-width="0.9"/>
<rect x="340.63" y="445.98" width="3.80" height="3.80" fill="#fff" stroke="#d02843" stroke-width="0.9"/>
<path d="M336.92,454.01 L341.48,454.01 L339.20,450.02 Z" fill="#fff" stroke="#d02843" stroke-width="0.9" stroke-linejoin="round"/>
<circle cx="340.53" cy="456.72" r="1.90" fill="#fff" stroke="#d02843" stroke-width="0.9"/>
<rect x="339.97" y="459.24" width="3.80" height="3.80" fill="#fff" stroke="#d02843" stroke-width="0.9"/>
<line x1="357.60" y1="429.32" x2="357.60" y2="448.76" stroke="#f2a23a" stroke-width="1.04"/>
<line x1="355.80" y1="429.32" x2="359.40" y2="429.32" stroke="#f2a23a" stroke-width="1.04"/>
<line x1="355.80" y1="448.76" x2="359.40" y2="448.76" stroke="#f2a23a" stroke-width="1.04"/>
<circle cx="355.60" cy="418.27" r="1.90" fill="#fff" stroke="#f2a23a" stroke-width="0.9"/>
<rect x="355.03" y="423.88" width="3.80" height="3.80" fill="#fff" stroke="#f2a23a" stroke-width="0.9"/>
<path d="M355.99,436.33 L360.55,436.33 L358.27,432.34 Z" fill="#fff" stroke="#f2a23a" stroke-width="0.9" stroke-linejoin="round"/>
<path d="M357.32,437.33 L361.88,437.33 L359.60,441.32 Z" fill="#fff" stroke="#f2a23a" stroke-width="0.9" stroke-linejoin="round"/>
<path d="M356.27,438.87 L358.64,441.25 L356.27,443.62 L353.89,441.25 Z" fill="#fff" stroke="#f2a23a" stroke-width="0.9" stroke-linejoin="round"/>
<circle cx="357.60" cy="443.46" r="1.90" fill="#fff" stroke="#f2a23a" stroke-width="0.9"/>
<rect x="357.03" y="445.98" width="3.80" height="3.80" fill="#fff" stroke="#f2a23a" stroke-width="0.9"/>
<path d="M353.32,454.01 L357.88,454.01 L355.60,450.02 Z" fill="#fff" stroke="#f2a23a" stroke-width="0.9" stroke-linejoin="round"/>
<circle cx="356.93" cy="456.72" r="1.90" fill="#fff" stroke="#f2a23a" stroke-width="0.9"/>
<line x1="295.50" y1="405.60" x2="295.50" y2="496.50" stroke="#222" stroke-width="1.30"/>
<line x1="295.00" y1="496.50" x2="367.50" y2="496.50" stroke="#222" stroke-width="1.30"/>
<line x1="292.90" y1="496.50" x2="295.50" y2="496.50" stroke="#222" stroke-width="1.17"/>
<text x="291.10" y="499.10" font-size="7.6" fill="#333" stroke="#333" stroke-width="0.26" text-anchor="end">0.0</text>
<line x1="292.90" y1="474.40" x2="295.50" y2="474.40" stroke="#222" stroke-width="1.17"/>
<text x="291.10" y="477.00" font-size="7.6" fill="#333" stroke="#333" stroke-width="0.26" text-anchor="end">0.5</text>
<line x1="292.90" y1="452.30" x2="295.50" y2="452.30" stroke="#222" stroke-width="1.17"/>
<text x="291.10" y="454.90" font-size="7.6" fill="#333" stroke="#333" stroke-width="0.26" text-anchor="end">1.0</text>
<line x1="292.90" y1="430.20" x2="295.50" y2="430.20" stroke="#222" stroke-width="1.17"/>
<text x="291.10" y="432.80" font-size="7.6" fill="#333" stroke="#333" stroke-width="0.26" text-anchor="end">1.5</text>
<line x1="292.90" y1="408.10" x2="295.50" y2="408.10" stroke="#222" stroke-width="1.17"/>
<text x="291.10" y="410.70" font-size="7.6" fill="#333" stroke="#333" stroke-width="0.26" text-anchor="end">2.0</text>
<line x1="308.10" y1="496.50" x2="308.10" y2="498.80" stroke="#222" stroke-width="1.17"/>
<text x="310.70" y="506.30" font-size="7.7" fill="#222" stroke="#222" stroke-width="0.26" text-anchor="end" textLength="31.30" lengthAdjust="spacingAndGlyphs" transform="rotate(-45 310.70 506.30)">CMV TCR</text>
<line x1="324.90" y1="496.50" x2="324.90" y2="498.80" stroke="#222" stroke-width="1.17"/>
<text x="327.50" y="506.30" font-size="7.7" fill="#222" stroke="#222" stroke-width="0.26" text-anchor="end" textLength="35.40" lengthAdjust="spacingAndGlyphs" transform="rotate(-45 327.50 506.30)">BOB1 TCR</text>
<line x1="341.20" y1="496.50" x2="341.20" y2="498.80" stroke="#222" stroke-width="1.17"/>
<text x="343.80" y="506.30" font-size="7.7" fill="#222" stroke="#222" stroke-width="0.26" text-anchor="end" textLength="39.50" lengthAdjust="spacingAndGlyphs" transform="rotate(-45 343.80 506.30)">BCMA CAR</text>
<line x1="357.60" y1="496.50" x2="357.60" y2="498.80" stroke="#222" stroke-width="1.17"/>
<text x="360.20" y="506.30" font-size="7.7" fill="#222" stroke="#222" stroke-width="0.26" text-anchor="end" textLength="48.60" lengthAdjust="spacingAndGlyphs" transform="rotate(-45 360.20 506.30)">TCR : CAR Mix</text>
<line x1="305.80" y1="417.50" x2="328.50" y2="417.50" stroke="#808080" stroke-width="1.30"/>
<text x="316.55" y="414.80" font-size="5.8" fill="#444" stroke="#444" stroke-width="0.26" text-anchor="middle" textLength="17.70" lengthAdjust="spacingAndGlyphs">0.0209</text>
<line x1="308.10" y1="403.20" x2="341.90" y2="403.20" stroke="#808080" stroke-width="1.30"/>
<text x="324.45" y="400.80" font-size="5.8" fill="#444" stroke="#444" stroke-width="0.26" text-anchor="middle" textLength="17.30" lengthAdjust="spacingAndGlyphs">0.0631</text>
<line x1="308.50" y1="389.80" x2="357.70" y2="389.80" stroke="#808080" stroke-width="1.30"/>
<text x="333.35" y="387.30" font-size="5.8" fill="#444" stroke="#444" stroke-width="0.26" text-anchor="middle" textLength="16.70" lengthAdjust="spacingAndGlyphs">0.0745</text>
<text x="274.60" y="451.00" font-size="8.2" fill="#222" stroke="#222" stroke-width="0.25" text-anchor="middle" textLength="84.30" lengthAdjust="spacingAndGlyphs" transform="rotate(-90 274.60 451.00)"><tspan stroke-width="0.45">HLA B7-PE</tspan> (normalized MFI)</text>
<rect x="0.5" y="0.5" width="519" height="548" fill="none" stroke="#4a4a4a" stroke-width="1.2"/>
<line x1="0" y1="548.2" x2="520" y2="548.2" stroke="#4a4a4a" stroke-width="1.6"/>
</svg>
</body></html>
